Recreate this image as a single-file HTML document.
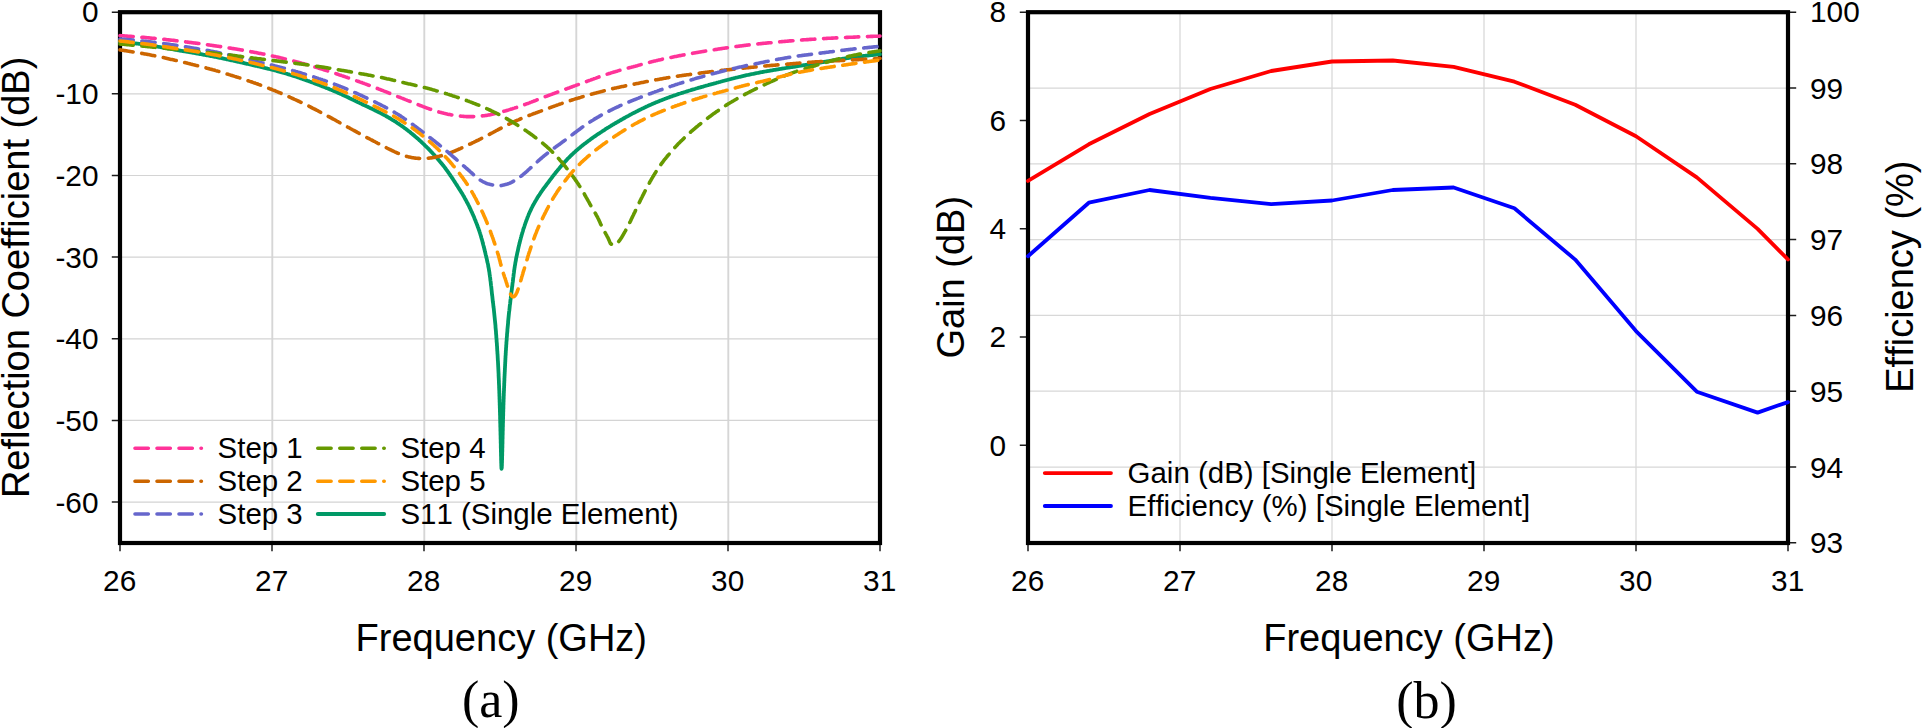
<!DOCTYPE html>
<html lang="en"><head><meta charset="utf-8"><title>Reflection coefficient, gain and efficiency</title>
<style>html,body{margin:0;padding:0;background:#fff;overflow:hidden}svg{display:block}text{fill:#000;font-kerning:none}</style></head><body>
<svg width="1923" height="728" viewBox="0 0 1923 728" font-family='"Liberation Sans", Arial, Helvetica, sans-serif'>
<rect x="0" y="0" width="1923" height="728" fill="#fff"/>
<g id="chart-a">
<path d="M272.3,12.2V543M424.3,12.2V543M576.3,12.2V543M728.3,12.2V543" stroke="#d6d6d6" stroke-width="1.9" fill="none"/>
<path d="M120,93.8H880M120,175.5H880M120,257.1H880M120,338.8H880M120,420.4H880M120,502.1H880" stroke="#d4d4d4" stroke-width="1.2" fill="none"/>
<path d="M120,543v8.2M272,543v8.2M424,543v8.2M576,543v8.2M728,543v8.2M880,543v8.2M120,12.2h-8.2M120,93.8h-8.2M120,175.5h-8.2M120,257.1h-8.2M120,338.8h-8.2M120,420.4h-8.2M120,502.1h-8.2" stroke="#1c1c1c" stroke-width="1.5" fill="none"/>
<rect x="120" y="12.2" width="760" height="530.8" fill="none" stroke="#000" stroke-width="4.2"/>
<path d="M120.0,42.0 L121.0,42.1 L122.0,42.2 L123.0,42.2 L124.0,42.3 L125.0,42.4 L126.0,42.5 L127.0,42.6 L128.0,42.7 L129.0,42.7 L130.0,42.8 L131.0,42.9 L131.9,43.0 L132.9,43.1 L133.9,43.2 L134.9,43.3 L135.9,43.5 L136.9,43.6 L137.9,43.7 L138.9,43.8 L139.9,43.9 L140.9,44.1 L141.9,44.2 L142.9,44.3 L143.9,44.5 L144.8,44.6 L145.8,44.7 L146.8,44.9 L147.8,45.0 L148.8,45.2 L149.8,45.4 L150.8,45.5 L151.8,45.7 L152.7,45.8 L153.7,46.0 L154.7,46.2 L155.7,46.3 L156.7,46.5 L157.7,46.7 L158.7,46.8 L159.6,47.0 L160.6,47.2 L161.6,47.3 L162.6,47.5 L163.6,47.7 L164.6,47.9 L165.6,48.0 L166.5,48.2 L167.5,48.4 L168.5,48.6 L169.5,48.7 L170.5,48.9 L171.5,49.1 L172.5,49.2 L173.4,49.4 L174.4,49.6 L175.4,49.8 L176.4,49.9 L177.4,50.1 L178.4,50.3 L179.3,50.5 L180.3,50.6 L181.3,50.8 L182.3,51.0 L183.3,51.1 L184.3,51.3 L185.3,51.5 L186.2,51.7 L187.2,51.8 L188.2,52.0 L189.2,52.2 L190.2,52.3 L191.2,52.5 L192.2,52.7 L193.1,52.8 L194.1,53.0 L195.1,53.2 L196.1,53.4 L197.1,53.5 L198.1,53.7 L199.1,53.9 L200.0,54.0 L201.0,54.2 L202.0,54.4 L203.0,54.6 L204.0,54.8 L205.0,54.9 L205.9,55.1 L206.9,55.3 L207.9,55.5 L208.9,55.7 L209.9,55.9 L210.9,56.1 L211.8,56.2 L212.8,56.4 L213.8,56.6 L214.8,56.8 L215.8,57.0 L216.7,57.2 L217.7,57.4 L218.7,57.6 L219.7,57.8 L220.7,58.0 L221.6,58.2 L222.6,58.4 L223.6,58.6 L224.6,58.8 L225.6,59.0 L226.5,59.3 L227.5,59.5 L228.5,59.7 L229.5,59.9 L230.4,60.1 L231.4,60.3 L232.4,60.5 L233.4,60.7 L234.3,61.0 L235.3,61.2 L236.3,61.4 L237.3,61.6 L238.3,61.8 L239.2,62.0 L240.2,62.3 L241.2,62.5 L242.2,62.7 L243.1,62.9 L244.1,63.1 L245.1,63.4 L246.1,63.6 L247.0,63.8 L248.0,64.0 L249.0,64.2 L250.0,64.5 L250.9,64.7 L251.9,64.9 L252.9,65.1 L253.9,65.4 L254.8,65.6 L255.8,65.8 L256.8,66.0 L257.8,66.3 L258.7,66.5 L259.7,66.7 L260.7,66.9 L261.7,67.2 L262.6,67.4 L263.6,67.6 L264.6,67.9 L265.5,68.1 L266.5,68.3 L267.5,68.6 L268.5,68.8 L269.4,69.0 L270.4,69.3 L271.4,69.5 L272.3,69.8 L273.3,70.0 L274.3,70.3 L275.2,70.5 L276.2,70.8 L277.2,71.1 L278.1,71.3 L279.1,71.6 L280.1,71.9 L281.0,72.1 L282.0,72.4 L282.9,72.7 L283.9,73.0 L284.9,73.2 L285.8,73.5 L286.8,73.8 L287.7,74.1 L288.7,74.4 L289.6,74.7 L290.6,75.0 L291.5,75.3 L292.5,75.6 L293.5,75.9 L294.4,76.2 L295.4,76.5 L296.3,76.8 L297.3,77.1 L298.2,77.5 L299.1,77.8 L300.1,78.1 L301.0,78.4 L302.0,78.8 L302.9,79.1 L303.9,79.4 L304.8,79.8 L305.7,80.1 L306.7,80.4 L307.6,80.8 L308.6,81.1 L309.5,81.5 L310.4,81.8 L311.4,82.2 L312.3,82.5 L313.3,82.8 L314.2,83.2 L315.1,83.6 L316.1,83.9 L317.0,84.3 L317.9,84.6 L318.9,85.0 L319.8,85.3 L320.7,85.7 L321.7,86.1 L322.6,86.4 L323.5,86.8 L324.5,87.1 L325.4,87.5 L326.3,87.9 L327.3,88.3 L328.2,88.6 L329.1,89.0 L330.0,89.4 L331.0,89.8 L331.9,90.1 L332.8,90.5 L333.7,90.9 L334.6,91.3 L335.6,91.7 L336.5,92.1 L337.4,92.5 L338.3,92.9 L339.2,93.3 L340.1,93.7 L341.0,94.1 L342.0,94.5 L342.9,95.0 L343.8,95.4 L344.7,95.8 L345.6,96.2 L346.5,96.7 L347.4,97.1 L348.3,97.5 L349.2,98.0 L350.1,98.4 L351.0,98.8 L351.9,99.3 L352.8,99.7 L353.7,100.1 L354.6,100.6 L355.5,101.0 L356.4,101.4 L357.3,101.9 L358.2,102.3 L359.1,102.7 L360.0,103.2 L360.9,103.6 L361.8,104.0 L362.7,104.5 L363.6,104.9 L364.5,105.3 L365.4,105.7 L366.3,106.2 L367.2,106.6 L368.1,107.0 L369.0,107.4 L369.9,107.9 L370.8,108.3 L371.7,108.7 L372.6,109.2 L373.5,109.6 L374.4,110.0 L375.3,110.5 L376.2,110.9 L377.1,111.4 L378.0,111.8 L378.9,112.3 L379.8,112.7 L380.7,113.2 L381.6,113.6 L382.4,114.1 L383.3,114.6 L384.2,115.1 L385.1,115.5 L385.9,116.0 L386.8,116.5 L387.7,117.0 L388.5,117.5 L389.4,118.0 L390.3,118.5 L391.1,119.1 L392.0,119.6 L392.8,120.1 L393.7,120.6 L394.5,121.2 L395.4,121.7 L396.2,122.2 L397.0,122.8 L397.9,123.3 L398.7,123.9 L399.5,124.4 L400.3,125.0 L401.2,125.6 L402.0,126.2 L402.8,126.7 L403.6,127.3 L404.4,127.9 L405.2,128.5 L406.0,129.1 L406.8,129.7 L407.6,130.3 L408.4,130.9 L409.2,131.5 L410.0,132.1 L410.7,132.8 L411.5,133.4 L412.3,134.0 L413.1,134.7 L413.8,135.3 L414.6,136.0 L415.3,136.6 L416.1,137.3 L416.9,137.9 L417.6,138.6 L418.4,139.2 L419.1,139.9 L419.8,140.6 L420.6,141.2 L421.3,141.9 L422.0,142.6 L422.8,143.3 L423.5,144.0 L424.2,144.7 L424.9,145.4 L425.6,146.1 L426.4,146.8 L427.1,147.5 L427.8,148.2 L428.5,148.9 L429.2,149.6 L429.9,150.3 L430.6,151.0 L431.2,151.8 L431.9,152.5 L432.6,153.2 L433.3,154.0 L434.0,154.7 L434.6,155.4 L435.3,156.2 L436.0,156.9 L436.6,157.7 L437.3,158.4 L438.0,159.2 L438.6,159.9 L439.3,160.7 L439.9,161.5 L440.5,162.2 L441.2,163.0 L441.8,163.8 L442.4,164.5 L443.0,165.3 L443.7,166.1 L444.3,166.9 L444.9,167.7 L445.5,168.5 L446.1,169.3 L446.7,170.1 L447.2,170.9 L447.8,171.7 L448.4,172.5 L449.0,173.3 L449.5,174.2 L450.1,175.0 L450.7,175.8 L451.2,176.6 L451.8,177.5 L452.4,178.3 L452.9,179.1 L453.5,180.0 L454.0,180.8 L454.6,181.6 L455.1,182.5 L455.6,183.3 L456.2,184.2 L456.7,185.0 L457.3,185.8 L457.8,186.7 L458.3,187.5 L458.9,188.4 L459.4,189.2 L460.0,190.1 L460.5,190.9 L461.0,191.7 L461.5,192.6 L462.1,193.4 L462.6,194.3 L463.1,195.2 L463.6,196.0 L464.1,196.9 L464.6,197.8 L465.0,198.6 L465.5,199.5 L466.0,200.4 L466.5,201.3 L466.9,202.2 L467.4,203.0 L467.9,203.9 L468.3,204.8 L468.8,205.7 L469.2,206.6 L469.6,207.5 L470.1,208.4 L470.5,209.3 L470.9,210.2 L471.3,211.1 L471.8,212.1 L472.2,213.0 L472.6,213.9 L473.0,214.8 L473.4,215.7 L473.8,216.6 L474.2,217.5 L474.5,218.5 L474.9,219.4 L475.3,220.3 L475.7,221.3 L476.0,222.2 L476.4,223.1 L476.8,224.1 L477.1,225.0 L477.5,225.9 L477.8,226.9 L478.2,227.8 L478.5,228.7 L478.8,229.7 L479.2,230.6 L479.5,231.6 L479.8,232.5 L480.1,233.5 L480.4,234.4 L480.7,235.4 L481.0,236.3 L481.2,237.3 L481.5,238.3 L481.8,239.2 L482.1,240.2 L482.3,241.2 L482.6,242.1 L482.8,243.1 L483.1,244.1 L483.3,245.0 L483.6,246.0 L483.8,247.0 L484.1,247.9 L484.3,248.9 L484.6,249.9 L484.8,250.9 L485.0,251.8 L485.3,252.8 L485.5,253.8 L485.7,254.7 L486.0,255.7 L486.2,256.7 L486.4,257.7 L486.7,258.6 L486.9,259.6 L487.1,260.6 L487.3,261.6 L487.5,262.5 L487.8,263.5 L488.0,264.5 L488.2,265.5 L488.3,266.5 L488.5,267.4 L488.7,268.4 L488.9,269.4 L489.0,270.4 L489.2,271.4 L489.4,272.4 L489.5,273.4 L489.6,274.4 L489.8,275.3 L489.9,276.3 L490.1,277.3 L490.2,278.3 L490.3,279.3 L490.4,280.3 L490.6,281.3 L490.7,282.3 L490.8,283.3 L490.9,284.3 L491.0,285.3 L491.2,286.3 L491.3,287.3 L491.4,288.2 L491.5,289.2 L491.6,290.2 L491.7,291.2 L491.8,292.2 L491.9,293.2 L492.0,294.2 L492.1,295.2 L492.3,296.2 L492.4,297.2 L492.5,298.2 L492.6,299.2 L492.7,300.2 L492.8,301.2 L492.9,302.2 L493.1,303.2 L493.2,304.1 L493.3,305.1 L493.4,306.1 L493.5,307.1 L493.7,308.1 L493.8,309.1 L493.9,310.1 L494.0,311.1 L494.1,312.1 L494.2,313.1 L494.3,314.1 L494.4,315.1 L494.5,316.1 L494.6,317.1 L494.7,318.1 L494.8,319.1 L494.9,320.1 L495.0,321.0 L495.1,322.0 L495.2,323.0 L495.3,324.0 L495.4,325.0 L495.5,326.0 L495.5,327.0 L495.6,328.0 L495.7,329.0 L495.8,330.0 L495.9,331.0 L496.0,332.0 L496.0,333.0 L496.1,334.0 L496.2,335.0 L496.3,336.0 L496.3,337.0 L496.4,338.0 L496.5,339.0 L496.6,340.0 L496.6,341.0 L496.7,342.0 L496.8,343.0 L496.9,344.0 L496.9,345.0 L497.0,346.0 L497.1,347.0 L497.1,348.0 L497.2,349.0 L497.2,350.0 L497.3,351.0 L497.4,352.0 L497.4,353.0 L497.5,354.0 L497.6,354.9 L497.6,355.9 L497.7,356.9 L497.7,357.9 L497.8,358.9 L497.8,359.9 L497.9,360.9 L498.0,361.9 L498.0,362.9 L498.1,363.9 L498.1,364.9 L498.2,365.9 L498.2,366.9 L498.3,367.9 L498.3,368.9 L498.4,369.9 L498.4,370.9 L498.5,371.9 L498.5,372.9 L498.6,373.9 L498.6,374.9 L498.6,375.9 L498.7,376.9 L498.7,377.9 L498.8,378.9 L498.8,379.9 L498.9,380.9 L498.9,381.9 L498.9,382.9 L499.0,383.9 L499.0,384.9 L499.1,385.9 L499.1,386.9 L499.1,387.9 L499.2,388.9 L499.2,389.9 L499.3,390.9 L499.3,391.9 L499.3,392.9 L499.4,393.9 L499.4,394.9 L499.4,395.9 L499.5,396.9 L499.5,397.9 L499.5,398.9 L499.6,399.9 L499.6,400.9 L499.6,401.9 L499.7,402.9 L499.7,403.9 L499.7,404.9 L499.8,405.9 L499.8,406.9 L499.8,407.9 L499.9,408.9 L499.9,409.9 L499.9,410.9 L499.9,411.9 L500.0,412.9 L500.0,413.9 L500.0,414.9 L500.1,415.9 L500.1,416.9 L500.1,417.9 L500.1,418.9 L500.2,419.9 L500.2,420.9 L500.2,421.9 L500.2,422.9 L500.3,423.9 L500.3,424.9 L500.3,425.9 L500.3,426.9 L500.4,427.9 L500.4,428.9 L500.4,429.9 L500.4,430.9 L500.5,431.9 L500.5,432.9 L500.5,433.9 L500.5,434.9 L500.6,435.9 L500.6,436.9 L500.6,437.9 L500.6,438.9 L500.7,439.9 L500.7,440.9 L500.7,441.9 L500.7,442.9 L500.8,443.9 L500.8,444.9 L500.8,445.9 L500.8,446.9 L500.8,447.9 L500.9,448.9 L500.9,449.9 L500.9,450.9 L500.9,451.9 L501.0,452.9 L501.0,453.9 L501.0,454.9 L501.0,455.9 L501.1,456.9 L501.1,457.9 L501.1,458.9 L501.1,459.9 L501.2,460.9 L501.2,461.9 L501.2,462.9 L501.3,463.9 L501.3,464.9 L501.3,465.9 L501.4,466.9 L501.4,467.9 L501.5,468.9 L501.8,467.5 L501.8,466.5 L501.9,465.5 L501.9,464.5 L501.9,463.5 L502.0,462.5 L502.0,461.5 L502.0,460.5 L502.1,459.5 L502.1,458.5 L502.1,457.5 L502.1,456.5 L502.2,455.5 L502.2,454.5 L502.2,453.5 L502.2,452.5 L502.3,451.5 L502.3,450.5 L502.3,449.5 L502.3,448.5 L502.4,447.5 L502.4,446.5 L502.4,445.5 L502.4,444.5 L502.5,443.5 L502.5,442.5 L502.5,441.5 L502.5,440.5 L502.5,439.5 L502.6,438.5 L502.6,437.5 L502.6,436.5 L502.6,435.5 L502.7,434.5 L502.7,433.5 L502.7,432.5 L502.7,431.5 L502.8,430.5 L502.8,429.5 L502.8,428.5 L502.8,427.5 L502.9,426.5 L502.9,425.5 L502.9,424.5 L502.9,423.5 L503.0,422.5 L503.0,421.5 L503.0,420.5 L503.0,419.5 L503.1,418.5 L503.1,417.5 L503.1,416.5 L503.2,415.5 L503.2,414.5 L503.2,413.5 L503.2,412.5 L503.3,411.5 L503.3,410.5 L503.3,409.5 L503.4,408.6 L503.4,407.6 L503.4,406.6 L503.4,405.6 L503.5,404.6 L503.5,403.6 L503.5,402.6 L503.6,401.6 L503.6,400.6 L503.6,399.6 L503.7,398.6 L503.7,397.6 L503.7,396.6 L503.8,395.6 L503.8,394.6 L503.8,393.6 L503.9,392.6 L503.9,391.6 L504.0,390.6 L504.0,389.6 L504.0,388.6 L504.1,387.6 L504.1,386.6 L504.2,385.6 L504.2,384.6 L504.2,383.6 L504.3,382.6 L504.3,381.6 L504.4,380.6 L504.4,379.6 L504.4,378.6 L504.5,377.6 L504.5,376.6 L504.6,375.6 L504.6,374.6 L504.7,373.6 L504.7,372.6 L504.8,371.6 L504.8,370.6 L504.9,369.6 L504.9,368.6 L505.0,367.6 L505.0,366.6 L505.1,365.6 L505.1,364.6 L505.2,363.6 L505.2,362.6 L505.3,361.6 L505.3,360.6 L505.4,359.6 L505.4,358.6 L505.5,357.6 L505.5,356.6 L505.6,355.6 L505.7,354.6 L505.7,353.6 L505.8,352.6 L505.8,351.6 L505.9,350.6 L506.0,349.6 L506.0,348.6 L506.1,347.6 L506.2,346.6 L506.2,345.6 L506.3,344.6 L506.4,343.6 L506.4,342.6 L506.5,341.6 L506.6,340.6 L506.7,339.6 L506.7,338.6 L506.8,337.6 L506.9,336.6 L507.0,335.6 L507.0,334.6 L507.1,333.7 L507.2,332.7 L507.3,331.7 L507.4,330.7 L507.4,329.7 L507.5,328.7 L507.6,327.7 L507.7,326.7 L507.8,325.7 L507.9,324.7 L508.0,323.7 L508.1,322.7 L508.1,321.7 L508.2,320.7 L508.3,319.7 L508.4,318.7 L508.5,317.7 L508.6,316.7 L508.7,315.7 L508.8,314.7 L508.9,313.7 L509.0,312.7 L509.1,311.7 L509.3,310.8 L509.4,309.8 L509.5,308.8 L509.6,307.8 L509.7,306.8 L509.8,305.8 L509.9,304.8 L510.1,303.8 L510.2,302.8 L510.3,301.8 L510.4,300.8 L510.5,299.8 L510.7,298.8 L510.8,297.8 L510.9,296.8 L511.0,295.9 L511.1,294.9 L511.3,293.9 L511.4,292.9 L511.5,291.9 L511.6,290.9 L511.8,289.9 L511.9,288.9 L512.0,287.9 L512.1,286.9 L512.3,285.9 L512.4,284.9 L512.5,283.9 L512.6,283.0 L512.8,282.0 L512.9,281.0 L513.0,280.0 L513.1,279.0 L513.2,278.0 L513.4,277.0 L513.5,276.0 L513.6,275.0 L513.7,274.0 L513.9,273.0 L514.0,272.0 L514.1,271.0 L514.2,270.1 L514.4,269.1 L514.5,268.1 L514.7,267.1 L514.8,266.1 L515.0,265.1 L515.2,264.1 L515.3,263.1 L515.5,262.2 L515.7,261.2 L515.9,260.2 L516.0,259.2 L516.2,258.2 L516.4,257.2 L516.6,256.3 L516.8,255.3 L517.0,254.3 L517.2,253.3 L517.4,252.3 L517.7,251.4 L517.9,250.4 L518.1,249.4 L518.3,248.4 L518.5,247.5 L518.7,246.5 L519.0,245.5 L519.2,244.5 L519.4,243.6 L519.7,242.6 L519.9,241.6 L520.2,240.7 L520.4,239.7 L520.7,238.7 L520.9,237.7 L521.2,236.8 L521.5,235.8 L521.7,234.8 L522.0,233.9 L522.3,232.9 L522.6,232.0 L522.9,231.0 L523.1,230.1 L523.4,229.1 L523.7,228.2 L524.1,227.2 L524.4,226.3 L524.7,225.3 L525.0,224.4 L525.3,223.4 L525.7,222.5 L526.0,221.5 L526.4,220.6 L526.7,219.6 L527.1,218.7 L527.4,217.8 L527.8,216.8 L528.2,215.9 L528.5,215.0 L528.9,214.1 L529.3,213.1 L529.7,212.2 L530.1,211.3 L530.6,210.4 L531.0,209.5 L531.4,208.6 L531.8,207.7 L532.3,206.8 L532.7,205.9 L533.2,205.1 L533.7,204.2 L534.2,203.3 L534.7,202.4 L535.2,201.5 L535.7,200.7 L536.2,199.8 L536.7,199.0 L537.2,198.1 L537.7,197.3 L538.3,196.4 L538.8,195.6 L539.4,194.7 L539.9,193.9 L540.5,193.1 L541.0,192.3 L541.6,191.4 L542.2,190.6 L542.7,189.8 L543.3,189.0 L543.9,188.2 L544.5,187.4 L545.1,186.6 L545.7,185.8 L546.3,185.0 L546.9,184.2 L547.5,183.4 L548.1,182.6 L548.7,181.8 L549.3,181.0 L549.9,180.2 L550.5,179.4 L551.1,178.6 L551.7,177.8 L552.3,177.0 L552.9,176.2 L553.5,175.4 L554.2,174.6 L554.8,173.8 L555.4,173.0 L556.0,172.3 L556.6,171.5 L557.3,170.7 L557.9,169.9 L558.5,169.2 L559.2,168.4 L559.8,167.6 L560.5,166.9 L561.1,166.1 L561.8,165.4 L562.4,164.6 L563.1,163.8 L563.7,163.1 L564.4,162.4 L565.1,161.6 L565.8,160.9 L566.4,160.2 L567.1,159.4 L567.8,158.7 L568.5,158.0 L569.2,157.3 L569.9,156.6 L570.6,155.9 L571.3,155.2 L572.1,154.5 L572.8,153.8 L573.5,153.1 L574.3,152.5 L575.0,151.8 L575.7,151.1 L576.5,150.5 L577.2,149.8 L578.0,149.2 L578.7,148.5 L579.5,147.9 L580.3,147.2 L581.0,146.6 L581.8,146.0 L582.6,145.3 L583.4,144.7 L584.2,144.1 L585.0,143.5 L585.8,142.9 L586.6,142.3 L587.4,141.7 L588.2,141.1 L589.0,140.5 L589.8,139.9 L590.6,139.3 L591.4,138.7 L592.2,138.2 L593.0,137.6 L593.8,137.0 L594.7,136.4 L595.5,135.9 L596.3,135.3 L597.1,134.7 L598.0,134.2 L598.8,133.6 L599.6,133.1 L600.5,132.5 L601.3,132.0 L602.1,131.4 L603.0,130.9 L603.8,130.3 L604.6,129.8 L605.5,129.2 L606.3,128.7 L607.2,128.2 L608.0,127.6 L608.9,127.1 L609.7,126.6 L610.6,126.1 L611.4,125.5 L612.3,125.0 L613.1,124.5 L614.0,124.0 L614.8,123.5 L615.7,123.0 L616.6,122.5 L617.4,122.0 L618.3,121.5 L619.2,121.0 L620.0,120.5 L620.9,120.0 L621.8,119.5 L622.6,119.0 L623.5,118.5 L624.4,118.0 L625.3,117.5 L626.1,117.0 L627.0,116.6 L627.9,116.1 L628.8,115.6 L629.6,115.1 L630.5,114.6 L631.4,114.2 L632.3,113.7 L633.2,113.2 L634.1,112.8 L634.9,112.3 L635.8,111.9 L636.7,111.4 L637.6,111.0 L638.5,110.5 L639.4,110.1 L640.3,109.6 L641.2,109.2 L642.1,108.7 L643.0,108.3 L643.9,107.9 L644.8,107.4 L645.7,107.0 L646.6,106.6 L647.5,106.2 L648.4,105.7 L649.3,105.3 L650.2,104.9 L651.2,104.5 L652.1,104.1 L653.0,103.7 L653.9,103.3 L654.8,102.9 L655.7,102.5 L656.7,102.1 L657.6,101.8 L658.5,101.4 L659.4,101.0 L660.4,100.6 L661.3,100.3 L662.2,99.9 L663.2,99.5 L664.1,99.2 L665.0,98.8 L666.0,98.5 L666.9,98.1 L667.8,97.8 L668.8,97.4 L669.7,97.1 L670.6,96.7 L671.6,96.4 L672.5,96.1 L673.5,95.7 L674.4,95.4 L675.4,95.1 L676.3,94.8 L677.3,94.4 L678.2,94.1 L679.1,93.8 L680.1,93.5 L681.0,93.2 L682.0,92.9 L683.0,92.6 L683.9,92.3 L684.9,92.0 L685.8,91.7 L686.8,91.4 L687.7,91.1 L688.7,90.8 L689.6,90.5 L690.6,90.2 L691.5,89.9 L692.5,89.6 L693.5,89.3 L694.4,89.1 L695.4,88.8 L696.3,88.5 L697.3,88.2 L698.3,87.9 L699.2,87.7 L700.2,87.4 L701.1,87.1 L702.1,86.8 L703.1,86.6 L704.0,86.3 L705.0,86.0 L706.0,85.7 L706.9,85.5 L707.9,85.2 L708.8,84.9 L709.8,84.7 L710.8,84.4 L711.7,84.1 L712.7,83.9 L713.7,83.6 L714.6,83.3 L715.6,83.1 L716.6,82.8 L717.5,82.5 L718.5,82.3 L719.5,82.0 L720.4,81.8 L721.4,81.5 L722.4,81.2 L723.3,81.0 L724.3,80.7 L725.3,80.5 L726.2,80.2 L727.2,80.0 L728.2,79.7 L729.1,79.5 L730.1,79.2 L731.1,79.0 L732.0,78.7 L733.0,78.5 L734.0,78.2 L734.9,78.0 L735.9,77.7 L736.9,77.5 L737.8,77.3 L738.8,77.0 L739.8,76.8 L740.8,76.6 L741.7,76.3 L742.7,76.1 L743.7,75.9 L744.7,75.7 L745.6,75.4 L746.6,75.2 L747.6,75.0 L748.6,74.8 L749.5,74.6 L750.5,74.4 L751.5,74.2 L752.5,74.0 L753.5,73.8 L754.4,73.6 L755.4,73.4 L756.4,73.2 L757.4,73.0 L758.4,72.8 L759.3,72.6 L760.3,72.4 L761.3,72.2 L762.3,72.0 L763.3,71.9 L764.2,71.7 L765.2,71.5 L766.2,71.3 L767.2,71.1 L768.2,71.0 L769.2,70.8 L770.2,70.6 L771.1,70.5 L772.1,70.3 L773.1,70.1 L774.1,69.9 L775.1,69.8 L776.1,69.6 L777.1,69.5 L778.0,69.3 L779.0,69.1 L780.0,69.0 L781.0,68.8 L782.0,68.6 L783.0,68.5 L784.0,68.3 L785.0,68.2 L785.9,68.0 L786.9,67.8 L787.9,67.7 L788.9,67.5 L789.9,67.4 L790.9,67.2 L791.9,67.1 L792.9,66.9 L793.8,66.8 L794.8,66.6 L795.8,66.5 L796.8,66.3 L797.8,66.2 L798.8,66.0 L799.8,65.8 L800.8,65.7 L801.7,65.5 L802.7,65.4 L803.7,65.2 L804.7,65.1 L805.7,64.9 L806.7,64.8 L807.7,64.6 L808.7,64.5 L809.7,64.3 L810.6,64.2 L811.6,64.0 L812.6,63.8 L813.6,63.7 L814.6,63.5 L815.6,63.4 L816.6,63.2 L817.6,63.0 L818.5,62.9 L819.5,62.7 L820.5,62.5 L821.5,62.4 L822.5,62.2 L823.5,62.0 L824.5,61.9 L825.4,61.7 L826.4,61.5 L827.4,61.4 L828.4,61.2 L829.4,61.0 L830.4,60.9 L831.4,60.7 L832.3,60.5 L833.3,60.4 L834.3,60.2 L835.3,60.0 L836.3,59.9 L837.3,59.7 L838.3,59.5 L839.2,59.4 L840.2,59.2 L841.2,59.1 L842.2,58.9 L843.2,58.7 L844.2,58.6 L845.2,58.4 L846.2,58.3 L847.1,58.1 L848.1,58.0 L849.1,57.9 L850.1,57.7 L851.1,57.6 L852.1,57.4 L853.1,57.3 L854.1,57.2 L855.1,57.0 L856.0,56.9 L857.0,56.8 L858.0,56.7 L859.0,56.5 L860.0,56.4 L861.0,56.3 L862.0,56.2 L863.0,56.0 L863.9,55.9 L864.9,55.8 L865.9,55.7 L866.9,55.6 L867.9,55.5 L868.8,55.4 L869.8,55.3 L870.8,55.2 L871.8,55.1 L872.7,55.0 L873.7,54.9 L874.7,54.8 L875.7,54.6 L876.6,54.5 L877.6,54.4 L878.6,54.3 L879.5,54.2 L880.0,54.2" fill="none" stroke="#009966" stroke-width="3.8000000000000003" stroke-linecap="round" stroke-linejoin="round"/>
<path d="M120.0,35.6 L121.0,35.7 L122.0,35.7 L123.0,35.8 L124.0,35.9 L125.0,36.0 L126.0,36.0 L127.0,36.1 L128.0,36.2 L129.0,36.3 L130.0,36.3 L131.0,36.4 L132.0,36.5 L133.0,36.6 L134.0,36.6 L135.0,36.7 L136.0,36.8 L137.0,36.9 L138.0,36.9 L138.9,37.0 L139.9,37.1 L140.9,37.2 L141.9,37.3 L142.9,37.4 L143.9,37.4 L144.9,37.5 L145.9,37.6 L146.9,37.7 L147.9,37.8 L148.9,37.9 L149.9,38.0 L150.9,38.1 L151.9,38.2 L152.9,38.2 L153.9,38.3 L154.9,38.4 L155.9,38.5 L156.9,38.6 L157.9,38.7 L158.9,38.8 L159.9,38.9 L160.9,39.0 L161.8,39.1 L162.8,39.2 L163.8,39.3 L164.8,39.4 L165.8,39.5 L166.8,39.7 L167.8,39.8 L168.8,39.9 L169.8,40.0 L170.8,40.1 L171.8,40.2 L172.8,40.3 L173.8,40.4 L174.8,40.5 L175.8,40.7 L176.8,40.8 L177.8,40.9 L178.7,41.0 L179.7,41.1 L180.7,41.3 L181.7,41.4 L182.7,41.5 L183.7,41.6 L184.7,41.7 L185.7,41.9 L186.7,42.0 L187.7,42.1 L188.7,42.2 L189.7,42.4 L190.7,42.5 L191.6,42.6 L192.6,42.7 L193.6,42.9 L194.6,43.0 L195.6,43.1 L196.6,43.3 L197.6,43.4 L198.6,43.5 L199.6,43.7 L200.6,43.8 L201.6,43.9 L202.5,44.1 L203.5,44.2 L204.5,44.3 L205.5,44.5 L206.5,44.6 L207.5,44.7 L208.5,44.9 L209.5,45.0 L210.5,45.2 L211.5,45.3 L212.5,45.5 L213.4,45.6 L214.4,45.7 L215.4,45.9 L216.4,46.0 L217.4,46.2 L218.4,46.3 L219.4,46.5 L220.4,46.6 L221.4,46.8 L222.3,46.9 L223.3,47.1 L224.3,47.2 L225.3,47.4 L226.3,47.5 L227.3,47.7 L228.3,47.8 L229.3,48.0 L230.2,48.1 L231.2,48.3 L232.2,48.5 L233.2,48.6 L234.2,48.8 L235.2,48.9 L236.2,49.1 L237.2,49.3 L238.1,49.4 L239.1,49.6 L240.1,49.8 L241.1,49.9 L242.1,50.1 L243.1,50.3 L244.1,50.4 L245.0,50.6 L246.0,50.8 L247.0,51.0 L248.0,51.1 L249.0,51.3 L250.0,51.5 L250.9,51.7 L251.9,51.9 L252.9,52.0 L253.9,52.2 L254.9,52.4 L255.9,52.6 L256.8,52.8 L257.8,53.0 L258.8,53.2 L259.8,53.4 L260.8,53.5 L261.8,53.7 L262.7,53.9 L263.7,54.1 L264.7,54.3 L265.7,54.5 L266.6,54.7 L267.6,54.9 L268.6,55.1 L269.6,55.4 L270.6,55.6 L271.5,55.8 L272.5,56.0 L273.5,56.2 L274.5,56.4 L275.4,56.6 L276.4,56.9 L277.4,57.1 L278.4,57.3 L279.3,57.5 L280.3,57.8 L281.3,58.0 L282.3,58.2 L283.2,58.4 L284.2,58.7 L285.2,58.9 L286.2,59.1 L287.1,59.4 L288.1,59.6 L289.1,59.9 L290.0,60.1 L291.0,60.4 L292.0,60.6 L292.9,60.8 L293.9,61.1 L294.9,61.4 L295.8,61.6 L296.8,61.9 L297.8,62.1 L298.7,62.4 L299.7,62.6 L300.7,62.9 L301.6,63.2 L302.6,63.4 L303.6,63.7 L304.5,64.0 L305.5,64.2 L306.5,64.5 L307.4,64.8 L308.4,65.1 L309.3,65.3 L310.3,65.6 L311.3,65.9 L312.2,66.2 L313.2,66.5 L314.1,66.8 L315.1,67.1 L316.0,67.3 L317.0,67.6 L318.0,67.9 L318.9,68.2 L319.9,68.5 L320.8,68.8 L321.8,69.1 L322.7,69.4 L323.7,69.7 L324.6,70.0 L325.6,70.3 L326.5,70.6 L327.5,70.9 L328.4,71.2 L329.4,71.5 L330.4,71.8 L331.3,72.1 L332.3,72.5 L333.2,72.8 L334.2,73.1 L335.1,73.4 L336.1,73.7 L337.0,74.0 L337.9,74.3 L338.9,74.7 L339.8,75.0 L340.8,75.3 L341.7,75.6 L342.7,75.9 L343.6,76.3 L344.6,76.6 L345.5,76.9 L346.5,77.2 L347.4,77.6 L348.4,77.9 L349.3,78.2 L350.3,78.5 L351.2,78.9 L352.1,79.2 L353.1,79.5 L354.0,79.9 L355.0,80.2 L355.9,80.5 L356.9,80.9 L357.8,81.2 L358.7,81.5 L359.7,81.9 L360.6,82.2 L361.6,82.5 L362.5,82.9 L363.4,83.2 L364.4,83.6 L365.3,83.9 L366.3,84.3 L367.2,84.6 L368.1,85.0 L369.1,85.3 L370.0,85.7 L370.9,86.0 L371.9,86.4 L372.8,86.7 L373.7,87.1 L374.7,87.4 L375.6,87.8 L376.5,88.2 L377.5,88.5 L378.4,88.9 L379.3,89.2 L380.3,89.6 L381.2,90.0 L382.1,90.3 L383.1,90.7 L384.0,91.1 L384.9,91.4 L385.9,91.8 L386.8,92.1 L387.7,92.5 L388.7,92.9 L389.6,93.3 L390.5,93.6 L391.4,94.0 L392.4,94.4 L393.3,94.7 L394.2,95.1 L395.2,95.5 L396.1,95.8 L397.0,96.2 L397.9,96.6 L398.9,97.0 L399.8,97.3 L400.7,97.7 L401.7,98.1 L402.6,98.4 L403.5,98.8 L404.4,99.2 L405.4,99.6 L406.3,99.9 L407.2,100.3 L408.2,100.7 L409.1,101.0 L410.0,101.4 L410.9,101.8 L411.9,102.2 L412.8,102.5 L413.7,102.9 L414.7,103.3 L415.6,103.6 L416.5,104.0 L417.5,104.4 L418.4,104.8 L419.3,105.1 L420.2,105.5 L421.2,105.8 L422.1,106.2 L423.0,106.6 L424.0,106.9 L424.9,107.3 L425.8,107.6 L426.8,108.0 L427.7,108.3 L428.7,108.6 L429.6,109.0 L430.5,109.3 L431.5,109.6 L432.4,109.9 L433.4,110.3 L434.3,110.6 L435.3,110.9 L436.2,111.2 L437.2,111.4 L438.2,111.7 L439.1,112.0 L440.1,112.3 L441.0,112.5 L442.0,112.8 L443.0,113.0 L443.9,113.3 L444.9,113.5 L445.9,113.7 L446.8,113.9 L447.8,114.2 L448.8,114.4 L449.8,114.5 L450.7,114.7 L451.7,114.9 L452.7,115.1 L453.7,115.2 L454.7,115.4 L455.7,115.5 L456.7,115.7 L457.6,115.8 L458.6,115.9 L459.6,116.0 L460.6,116.1 L461.6,116.2 L462.6,116.3 L463.6,116.4 L464.6,116.5 L465.6,116.5 L466.6,116.6 L467.6,116.6 L468.6,116.6 L469.5,116.6 L470.5,116.6 L471.5,116.6 L472.5,116.6 L473.5,116.6 L474.5,116.6 L475.5,116.5 L476.5,116.5 L477.5,116.4 L478.5,116.3 L479.5,116.2 L480.5,116.2 L481.4,116.0 L482.4,115.9 L483.4,115.8 L484.4,115.7 L485.4,115.5 L486.4,115.4 L487.4,115.2 L488.3,115.0 L489.3,114.9 L490.3,114.7 L491.3,114.5 L492.2,114.3 L493.2,114.1 L494.2,113.8 L495.2,113.6 L496.1,113.4 L497.1,113.1 L498.1,112.9 L499.0,112.7 L500.0,112.4 L501.0,112.1 L501.9,111.9 L502.9,111.6 L503.9,111.3 L504.8,111.1 L505.8,110.8 L506.7,110.5 L507.7,110.2 L508.7,109.9 L509.6,109.6 L510.6,109.3 L511.5,109.0 L512.5,108.7 L513.4,108.4 L514.4,108.1 L515.3,107.8 L516.3,107.5 L517.2,107.2 L518.2,106.9 L519.1,106.5 L520.1,106.2 L521.0,105.9 L521.9,105.5 L522.9,105.2 L523.8,104.9 L524.8,104.5 L525.7,104.2 L526.6,103.8 L527.6,103.5 L528.5,103.2 L529.5,102.8 L530.4,102.4 L531.3,102.1 L532.3,101.7 L533.2,101.4 L534.1,101.0 L535.1,100.7 L536.0,100.3 L536.9,99.9 L537.9,99.6 L538.8,99.2 L539.7,98.9 L540.7,98.5 L541.6,98.1 L542.5,97.8 L543.5,97.4 L544.4,97.1 L545.3,96.7 L546.3,96.3 L547.2,96.0 L548.1,95.6 L549.1,95.3 L550.0,94.9 L550.9,94.6 L551.9,94.2 L552.8,93.9 L553.7,93.5 L554.7,93.2 L555.6,92.8 L556.6,92.5 L557.5,92.1 L558.4,91.8 L559.4,91.4 L560.3,91.1 L561.2,90.8 L562.2,90.4 L563.1,90.1 L564.1,89.7 L565.0,89.4 L565.9,89.0 L566.9,88.7 L567.8,88.3 L568.8,88.0 L569.7,87.7 L570.6,87.3 L571.6,87.0 L572.5,86.6 L573.5,86.3 L574.4,85.9 L575.3,85.6 L576.3,85.2 L577.2,84.9 L578.1,84.6 L579.1,84.2 L580.0,83.9 L581.0,83.5 L581.9,83.2 L582.8,82.8 L583.8,82.5 L584.7,82.2 L585.7,81.8 L586.6,81.5 L587.5,81.1 L588.5,80.8 L589.4,80.4 L590.4,80.1 L591.3,79.8 L592.2,79.4 L593.2,79.1 L594.1,78.7 L595.1,78.4 L596.0,78.1 L596.9,77.7 L597.9,77.4 L598.8,77.0 L599.8,76.7 L600.7,76.4 L601.7,76.1 L602.6,75.7 L603.6,75.4 L604.5,75.1 L605.4,74.8 L606.4,74.4 L607.3,74.1 L608.3,73.8 L609.2,73.5 L610.2,73.2 L611.1,72.9 L612.1,72.6 L613.1,72.3 L614.0,72.0 L615.0,71.7 L615.9,71.4 L616.9,71.2 L617.8,70.9 L618.8,70.6 L619.8,70.3 L620.7,70.1 L621.7,69.8 L622.6,69.5 L623.6,69.3 L624.6,69.0 L625.5,68.7 L626.5,68.5 L627.5,68.2 L628.4,68.0 L629.4,67.7 L630.4,67.4 L631.3,67.2 L632.3,66.9 L633.3,66.7 L634.2,66.4 L635.2,66.2 L636.2,65.9 L637.1,65.7 L638.1,65.4 L639.1,65.1 L640.0,64.9 L641.0,64.6 L642.0,64.4 L642.9,64.1 L643.9,63.9 L644.9,63.6 L645.8,63.3 L646.8,63.1 L647.8,62.8 L648.7,62.6 L649.7,62.3 L650.7,62.1 L651.6,61.8 L652.6,61.6 L653.6,61.3 L654.5,61.1 L655.5,60.9 L656.5,60.6 L657.5,60.4 L658.4,60.1 L659.4,59.9 L660.4,59.7 L661.3,59.5 L662.3,59.2 L663.3,59.0 L664.3,58.8 L665.3,58.6 L666.2,58.4 L667.2,58.2 L668.2,58.0 L669.2,57.8 L670.1,57.6 L671.1,57.4 L672.1,57.2 L673.1,57.0 L674.1,56.8 L675.0,56.6 L676.0,56.4 L677.0,56.2 L678.0,56.0 L679.0,55.8 L680.0,55.6 L680.9,55.5 L681.9,55.3 L682.9,55.1 L683.9,54.9 L684.9,54.7 L685.9,54.5 L686.8,54.4 L687.8,54.2 L688.8,54.0 L689.8,53.8 L690.8,53.6 L691.8,53.5 L692.7,53.3 L693.7,53.1 L694.7,52.9 L695.7,52.8 L696.7,52.6 L697.7,52.4 L698.6,52.3 L699.6,52.1 L700.6,51.9 L701.6,51.8 L702.6,51.6 L703.6,51.4 L704.6,51.3 L705.6,51.1 L706.5,50.9 L707.5,50.8 L708.5,50.6 L709.5,50.4 L710.5,50.3 L711.5,50.1 L712.5,50.0 L713.4,49.8 L714.4,49.7 L715.4,49.5 L716.4,49.4 L717.4,49.2 L718.4,49.0 L719.4,48.9 L720.4,48.7 L721.4,48.6 L722.3,48.5 L723.3,48.3 L724.3,48.2 L725.3,48.0 L726.3,47.9 L727.3,47.7 L728.3,47.6 L729.3,47.4 L730.3,47.3 L731.3,47.2 L732.2,47.0 L733.2,46.9 L734.2,46.8 L735.2,46.6 L736.2,46.5 L737.2,46.4 L738.2,46.2 L739.2,46.1 L740.2,46.0 L741.2,45.9 L742.2,45.7 L743.2,45.6 L744.1,45.5 L745.1,45.4 L746.1,45.3 L747.1,45.1 L748.1,45.0 L749.1,44.9 L750.1,44.8 L751.1,44.7 L752.1,44.6 L753.1,44.5 L754.1,44.4 L755.1,44.3 L756.1,44.2 L757.1,44.0 L758.1,43.9 L759.0,43.8 L760.0,43.7 L761.0,43.6 L762.0,43.5 L763.0,43.4 L764.0,43.3 L765.0,43.2 L766.0,43.1 L767.0,43.0 L768.0,42.9 L769.0,42.8 L770.0,42.7 L771.0,42.7 L772.0,42.6 L773.0,42.5 L774.0,42.4 L775.0,42.3 L776.0,42.2 L777.0,42.1 L778.0,42.0 L779.0,41.9 L780.0,41.8 L780.9,41.7 L781.9,41.6 L782.9,41.5 L783.9,41.5 L784.9,41.4 L785.9,41.3 L786.9,41.2 L787.9,41.1 L788.9,41.0 L789.9,40.9 L790.9,40.9 L791.9,40.8 L792.9,40.7 L793.9,40.6 L794.9,40.5 L795.9,40.5 L796.9,40.4 L797.9,40.3 L798.9,40.2 L799.9,40.1 L800.9,40.1 L801.9,40.0 L802.9,39.9 L803.9,39.8 L804.9,39.8 L805.9,39.7 L806.9,39.6 L807.9,39.6 L808.9,39.5 L809.9,39.4 L810.9,39.4 L811.9,39.3 L812.8,39.2 L813.8,39.2 L814.8,39.1 L815.8,39.0 L816.8,39.0 L817.8,38.9 L818.8,38.8 L819.8,38.8 L820.8,38.7 L821.8,38.7 L822.8,38.6 L823.8,38.6 L824.8,38.5 L825.8,38.5 L826.8,38.4 L827.8,38.3 L828.8,38.3 L829.8,38.2 L830.8,38.2 L831.8,38.1 L832.8,38.1 L833.8,38.0 L834.8,38.0 L835.8,37.9 L836.8,37.9 L837.8,37.8 L838.8,37.8 L839.8,37.7 L840.8,37.7 L841.8,37.6 L842.8,37.6 L843.8,37.6 L844.8,37.5 L845.8,37.5 L846.8,37.4 L847.8,37.4 L848.8,37.3 L849.8,37.3 L850.8,37.2 L851.8,37.2 L852.8,37.2 L853.8,37.1 L854.8,37.1 L855.8,37.0 L856.8,37.0 L857.8,36.9 L858.8,36.9 L859.8,36.9 L860.8,36.8 L861.8,36.8 L862.8,36.7 L863.7,36.7 L864.7,36.7 L865.7,36.6 L866.7,36.6 L867.7,36.6 L868.7,36.5 L869.7,36.5 L870.7,36.4 L871.7,36.4 L872.6,36.4 L873.6,36.3 L874.6,36.3 L875.6,36.3 L876.6,36.2 L877.6,36.2 L878.5,36.2 L879.5,36.1 L880.0,36.1" fill="none" stroke="#ff3399" stroke-width="3.6" stroke-linecap="round" stroke-linejoin="round" stroke-dasharray="13.3 8.7"/>
<path d="M120.0,49.9 L121.0,50.0 L122.0,50.2 L123.0,50.3 L124.0,50.5 L124.9,50.6 L125.9,50.8 L126.9,50.9 L127.9,51.1 L128.9,51.2 L129.9,51.4 L130.9,51.6 L131.9,51.7 L132.9,51.9 L133.8,52.0 L134.8,52.2 L135.8,52.3 L136.8,52.5 L137.8,52.7 L138.8,52.8 L139.8,53.0 L140.7,53.2 L141.7,53.4 L142.7,53.5 L143.7,53.7 L144.7,53.9 L145.7,54.1 L146.6,54.3 L147.6,54.4 L148.6,54.6 L149.6,54.8 L150.6,55.0 L151.6,55.2 L152.5,55.4 L153.5,55.6 L154.5,55.8 L155.5,56.0 L156.5,56.2 L157.4,56.4 L158.4,56.6 L159.4,56.8 L160.4,57.0 L161.3,57.2 L162.3,57.4 L163.3,57.6 L164.3,57.8 L165.3,58.1 L166.2,58.3 L167.2,58.5 L168.2,58.7 L169.2,58.9 L170.1,59.2 L171.1,59.4 L172.1,59.6 L173.1,59.8 L174.0,60.0 L175.0,60.3 L176.0,60.5 L177.0,60.7 L177.9,60.9 L178.9,61.2 L179.9,61.4 L180.8,61.6 L181.8,61.9 L182.8,62.1 L183.8,62.3 L184.7,62.6 L185.7,62.8 L186.7,63.0 L187.7,63.3 L188.6,63.5 L189.6,63.7 L190.6,64.0 L191.5,64.2 L192.5,64.5 L193.5,64.7 L194.5,64.9 L195.4,65.2 L196.4,65.4 L197.4,65.7 L198.3,65.9 L199.3,66.2 L200.3,66.4 L201.2,66.7 L202.2,66.9 L203.2,67.2 L204.1,67.4 L205.1,67.7 L206.1,67.9 L207.0,68.2 L208.0,68.4 L209.0,68.7 L209.9,69.0 L210.9,69.2 L211.9,69.5 L212.8,69.8 L213.8,70.0 L214.8,70.3 L215.7,70.6 L216.7,70.9 L217.6,71.1 L218.6,71.4 L219.6,71.7 L220.5,72.0 L221.5,72.3 L222.4,72.6 L223.4,72.8 L224.3,73.1 L225.3,73.4 L226.3,73.7 L227.2,74.0 L228.2,74.3 L229.1,74.6 L230.1,74.9 L231.0,75.2 L232.0,75.5 L232.9,75.8 L233.9,76.1 L234.8,76.4 L235.8,76.7 L236.7,77.0 L237.7,77.3 L238.7,77.6 L239.6,77.9 L240.6,78.2 L241.5,78.6 L242.5,78.9 L243.4,79.2 L244.4,79.5 L245.3,79.8 L246.3,80.1 L247.2,80.4 L248.2,80.8 L249.1,81.1 L250.0,81.4 L251.0,81.7 L251.9,82.0 L252.9,82.4 L253.8,82.7 L254.8,83.0 L255.7,83.4 L256.7,83.7 L257.6,84.0 L258.5,84.4 L259.5,84.7 L260.4,85.1 L261.3,85.4 L262.3,85.8 L263.2,86.1 L264.2,86.5 L265.1,86.8 L266.0,87.2 L267.0,87.6 L267.9,87.9 L268.8,88.3 L269.7,88.7 L270.7,89.0 L271.6,89.4 L272.5,89.8 L273.5,90.2 L274.4,90.5 L275.3,90.9 L276.2,91.3 L277.1,91.7 L278.1,92.1 L279.0,92.5 L279.9,92.8 L280.8,93.2 L281.8,93.6 L282.7,94.0 L283.6,94.4 L284.5,94.8 L285.4,95.2 L286.3,95.6 L287.3,96.0 L288.2,96.4 L289.1,96.8 L290.0,97.2 L290.9,97.7 L291.8,98.1 L292.7,98.5 L293.6,98.9 L294.5,99.3 L295.5,99.7 L296.4,100.2 L297.3,100.6 L298.2,101.0 L299.1,101.4 L300.0,101.9 L300.9,102.3 L301.8,102.7 L302.7,103.2 L303.6,103.6 L304.5,104.0 L305.4,104.5 L306.3,104.9 L307.2,105.4 L308.1,105.8 L309.0,106.2 L309.8,106.7 L310.7,107.1 L311.6,107.6 L312.5,108.1 L313.4,108.5 L314.3,109.0 L315.2,109.4 L316.1,109.9 L317.0,110.3 L317.9,110.8 L318.7,111.3 L319.6,111.7 L320.5,112.2 L321.4,112.7 L322.3,113.1 L323.2,113.6 L324.0,114.1 L324.9,114.6 L325.8,115.0 L326.7,115.5 L327.6,116.0 L328.4,116.5 L329.3,116.9 L330.2,117.4 L331.1,117.9 L332.0,118.4 L332.8,118.9 L333.7,119.3 L334.6,119.8 L335.5,120.3 L336.3,120.8 L337.2,121.3 L338.1,121.7 L339.0,122.2 L339.8,122.7 L340.7,123.2 L341.6,123.7 L342.5,124.2 L343.3,124.6 L344.2,125.1 L345.1,125.6 L346.0,126.1 L346.8,126.6 L347.7,127.1 L348.6,127.5 L349.5,128.0 L350.3,128.5 L351.2,129.0 L352.1,129.5 L353.0,130.0 L353.8,130.4 L354.7,130.9 L355.6,131.4 L356.5,131.9 L357.4,132.4 L358.2,132.8 L359.1,133.3 L360.0,133.8 L360.9,134.3 L361.7,134.8 L362.6,135.2 L363.5,135.7 L364.4,136.2 L365.3,136.7 L366.1,137.1 L367.0,137.6 L367.9,138.1 L368.8,138.5 L369.7,139.0 L370.6,139.5 L371.4,139.9 L372.3,140.4 L373.2,140.9 L374.1,141.3 L375.0,141.8 L375.9,142.3 L376.8,142.7 L377.6,143.2 L378.5,143.7 L379.4,144.1 L380.3,144.6 L381.2,145.0 L382.1,145.5 L383.0,146.0 L383.9,146.4 L384.8,146.9 L385.7,147.3 L386.5,147.8 L387.4,148.3 L388.3,148.7 L389.2,149.2 L390.1,149.6 L391.0,150.0 L391.9,150.5 L392.8,150.9 L393.7,151.3 L394.6,151.8 L395.5,152.2 L396.4,152.6 L397.3,153.0 L398.3,153.4 L399.2,153.8 L400.1,154.1 L401.0,154.5 L401.9,154.8 L402.9,155.2 L403.8,155.5 L404.7,155.8 L405.7,156.1 L406.6,156.4 L407.6,156.6 L408.5,156.9 L409.5,157.1 L410.4,157.3 L411.4,157.5 L412.4,157.7 L413.3,157.8 L414.3,158.0 L415.3,158.1 L416.2,158.2 L417.2,158.3 L418.2,158.4 L419.2,158.4 L420.2,158.5 L421.1,158.5 L422.1,158.5 L423.1,158.5 L424.1,158.5 L425.1,158.4 L426.1,158.4 L427.0,158.3 L428.0,158.2 L429.0,158.1 L430.0,158.0 L431.0,157.9 L432.0,157.7 L432.9,157.6 L433.9,157.4 L434.9,157.2 L435.9,157.0 L436.8,156.8 L437.8,156.6 L438.8,156.4 L439.7,156.1 L440.7,155.9 L441.6,155.6 L442.6,155.4 L443.6,155.1 L444.5,154.8 L445.4,154.5 L446.4,154.2 L447.3,153.9 L448.3,153.5 L449.2,153.2 L450.1,152.9 L451.1,152.5 L452.0,152.1 L452.9,151.8 L453.8,151.4 L454.8,151.0 L455.7,150.6 L456.6,150.2 L457.5,149.8 L458.4,149.4 L459.3,149.0 L460.3,148.6 L461.2,148.2 L462.1,147.8 L463.0,147.4 L463.9,146.9 L464.8,146.5 L465.7,146.1 L466.6,145.7 L467.5,145.3 L468.4,144.8 L469.3,144.4 L470.2,144.0 L471.1,143.6 L472.0,143.1 L472.9,142.7 L473.8,142.3 L474.7,141.8 L475.6,141.4 L476.5,140.9 L477.4,140.5 L478.3,140.1 L479.2,139.6 L480.1,139.2 L481.0,138.7 L481.9,138.3 L482.8,137.8 L483.7,137.4 L484.6,136.9 L485.4,136.4 L486.3,136.0 L487.2,135.5 L488.1,135.0 L489.0,134.6 L489.9,134.1 L490.7,133.6 L491.6,133.2 L492.5,132.7 L493.4,132.2 L494.3,131.7 L495.2,131.3 L496.0,130.8 L496.9,130.3 L497.8,129.9 L498.7,129.4 L499.6,128.9 L500.5,128.5 L501.3,128.0 L502.2,127.5 L503.1,127.1 L504.0,126.6 L504.9,126.2 L505.8,125.7 L506.7,125.3 L507.6,124.8 L508.5,124.4 L509.4,124.0 L510.3,123.5 L511.2,123.1 L512.1,122.7 L513.0,122.2 L513.9,121.8 L514.8,121.4 L515.7,121.0 L516.6,120.6 L517.5,120.2 L518.5,119.8 L519.4,119.4 L520.3,119.0 L521.2,118.6 L522.1,118.2 L523.1,117.8 L524.0,117.5 L524.9,117.1 L525.8,116.7 L526.8,116.4 L527.7,116.0 L528.6,115.6 L529.6,115.3 L530.5,114.9 L531.4,114.6 L532.4,114.2 L533.3,113.8 L534.2,113.5 L535.2,113.2 L536.1,112.8 L537.0,112.5 L538.0,112.1 L538.9,111.8 L539.9,111.4 L540.8,111.1 L541.7,110.7 L542.7,110.4 L543.6,110.0 L544.6,109.7 L545.5,109.4 L546.4,109.0 L547.4,108.7 L548.3,108.3 L549.2,108.0 L550.2,107.6 L551.1,107.3 L552.1,106.9 L553.0,106.6 L553.9,106.3 L554.9,105.9 L555.8,105.6 L556.8,105.2 L557.7,104.9 L558.6,104.6 L559.6,104.2 L560.5,103.9 L561.5,103.6 L562.4,103.2 L563.4,102.9 L564.3,102.6 L565.3,102.2 L566.2,101.9 L567.1,101.6 L568.1,101.3 L569.0,101.0 L570.0,100.7 L570.9,100.4 L571.9,100.0 L572.8,99.7 L573.8,99.4 L574.7,99.1 L575.7,98.8 L576.7,98.5 L577.6,98.2 L578.6,98.0 L579.5,97.7 L580.5,97.4 L581.4,97.1 L582.4,96.8 L583.4,96.5 L584.3,96.2 L585.3,96.0 L586.2,95.7 L587.2,95.4 L588.2,95.1 L589.1,94.9 L590.1,94.6 L591.0,94.3 L592.0,94.0 L593.0,93.8 L593.9,93.5 L594.9,93.2 L595.9,93.0 L596.8,92.7 L597.8,92.4 L598.8,92.2 L599.7,91.9 L600.7,91.7 L601.7,91.4 L602.6,91.2 L603.6,90.9 L604.6,90.7 L605.5,90.4 L606.5,90.2 L607.5,89.9 L608.4,89.7 L609.4,89.4 L610.4,89.2 L611.4,89.0 L612.3,88.7 L613.3,88.5 L614.3,88.3 L615.2,88.1 L616.2,87.9 L617.2,87.6 L618.2,87.4 L619.1,87.2 L620.1,87.0 L621.1,86.8 L622.1,86.6 L623.1,86.4 L624.0,86.2 L625.0,86.0 L626.0,85.8 L627.0,85.6 L628.0,85.4 L628.9,85.2 L629.9,85.0 L630.9,84.8 L631.9,84.6 L632.9,84.4 L633.8,84.2 L634.8,84.0 L635.8,83.8 L636.8,83.6 L637.8,83.4 L638.7,83.2 L639.7,83.0 L640.7,82.8 L641.7,82.6 L642.7,82.4 L643.6,82.2 L644.6,82.0 L645.6,81.8 L646.6,81.6 L647.6,81.4 L648.5,81.2 L649.5,81.0 L650.5,80.9 L651.5,80.7 L652.5,80.5 L653.5,80.3 L654.4,80.1 L655.4,79.9 L656.4,79.7 L657.4,79.6 L658.4,79.4 L659.4,79.2 L660.3,79.0 L661.3,78.9 L662.3,78.7 L663.3,78.5 L664.3,78.3 L665.3,78.2 L666.3,78.0 L667.2,77.8 L668.2,77.7 L669.2,77.5 L670.2,77.4 L671.2,77.2 L672.2,77.0 L673.2,76.9 L674.1,76.7 L675.1,76.6 L676.1,76.4 L677.1,76.3 L678.1,76.1 L679.1,76.0 L680.1,75.8 L681.1,75.7 L682.1,75.5 L683.0,75.4 L684.0,75.3 L685.0,75.1 L686.0,75.0 L687.0,74.8 L688.0,74.7 L689.0,74.6 L690.0,74.4 L691.0,74.3 L692.0,74.2 L693.0,74.0 L693.9,73.9 L694.9,73.8 L695.9,73.6 L696.9,73.5 L697.9,73.4 L698.9,73.2 L699.9,73.1 L700.9,73.0 L701.9,72.8 L702.9,72.7 L703.9,72.6 L704.9,72.5 L705.8,72.3 L706.8,72.2 L707.8,72.1 L708.8,72.0 L709.8,71.8 L710.8,71.7 L711.8,71.6 L712.8,71.5 L713.8,71.4 L714.8,71.2 L715.8,71.1 L716.8,71.0 L717.8,70.9 L718.7,70.8 L719.7,70.7 L720.7,70.5 L721.7,70.4 L722.7,70.3 L723.7,70.2 L724.7,70.1 L725.7,70.0 L726.7,69.9 L727.7,69.8 L728.7,69.7 L729.7,69.6 L730.7,69.5 L731.7,69.4 L732.7,69.3 L733.7,69.2 L734.7,69.1 L735.6,68.9 L736.6,68.8 L737.6,68.7 L738.6,68.6 L739.6,68.5 L740.6,68.4 L741.6,68.3 L742.6,68.2 L743.6,68.1 L744.6,68.0 L745.6,67.9 L746.6,67.8 L747.6,67.7 L748.6,67.6 L749.6,67.5 L750.6,67.4 L751.6,67.3 L752.6,67.2 L753.6,67.1 L754.6,67.0 L755.5,66.9 L756.5,66.8 L757.5,66.7 L758.5,66.6 L759.5,66.5 L760.5,66.4 L761.5,66.3 L762.5,66.2 L763.5,66.1 L764.5,66.0 L765.5,66.0 L766.5,65.9 L767.5,65.8 L768.5,65.7 L769.5,65.6 L770.5,65.5 L771.5,65.4 L772.5,65.4 L773.5,65.3 L774.5,65.2 L775.5,65.1 L776.5,65.0 L777.5,64.9 L778.5,64.9 L779.4,64.8 L780.4,64.7 L781.4,64.6 L782.4,64.5 L783.4,64.5 L784.4,64.4 L785.4,64.3 L786.4,64.2 L787.4,64.1 L788.4,64.1 L789.4,64.0 L790.4,63.9 L791.4,63.8 L792.4,63.7 L793.4,63.6 L794.4,63.6 L795.4,63.5 L796.4,63.4 L797.4,63.3 L798.4,63.2 L799.4,63.1 L800.4,63.1 L801.4,63.0 L802.4,62.9 L803.4,62.8 L804.4,62.7 L805.4,62.6 L806.4,62.6 L807.4,62.5 L808.3,62.4 L809.3,62.3 L810.3,62.3 L811.3,62.2 L812.3,62.1 L813.3,62.0 L814.3,62.0 L815.3,61.9 L816.3,61.8 L817.3,61.8 L818.3,61.7 L819.3,61.7 L820.3,61.6 L821.3,61.5 L822.3,61.5 L823.3,61.4 L824.3,61.4 L825.3,61.3 L826.3,61.2 L827.3,61.2 L828.3,61.1 L829.3,61.1 L830.3,61.0 L831.3,61.0 L832.3,60.9 L833.3,60.9 L834.3,60.8 L835.3,60.8 L836.3,60.7 L837.3,60.7 L838.3,60.6 L839.3,60.6 L840.3,60.5 L841.3,60.5 L842.3,60.4 L843.3,60.4 L844.3,60.3 L845.3,60.3 L846.3,60.2 L847.3,60.2 L848.3,60.1 L849.3,60.1 L850.3,60.0 L851.3,60.0 L852.3,59.9 L853.3,59.9 L854.3,59.8 L855.3,59.8 L856.3,59.7 L857.3,59.6 L858.3,59.6 L859.3,59.5 L860.2,59.5 L861.2,59.4 L862.2,59.4 L863.2,59.3 L864.2,59.2 L865.2,59.2 L866.2,59.1 L867.2,59.1 L868.2,59.0 L869.2,59.0 L870.2,58.9 L871.2,58.8 L872.1,58.8 L873.1,58.7 L874.1,58.7 L875.1,58.6 L876.1,58.5 L877.1,58.5 L878.0,58.4 L879.0,58.4 L880.0,58.3 L880.0,58.3" fill="none" stroke="#cc6600" stroke-width="3.6" stroke-linecap="round" stroke-linejoin="round" stroke-dasharray="13.3 8.7"/>
<path d="M120.0,39.0 L121.0,39.1 L122.0,39.2 L123.0,39.2 L124.0,39.3 L125.0,39.4 L126.0,39.5 L127.0,39.6 L128.0,39.7 L129.0,39.8 L130.0,39.8 L131.0,39.9 L132.0,40.0 L133.0,40.1 L134.0,40.2 L134.9,40.3 L135.9,40.4 L136.9,40.5 L137.9,40.6 L138.9,40.7 L139.9,40.8 L140.9,40.9 L141.9,41.0 L142.9,41.1 L143.9,41.2 L144.9,41.3 L145.9,41.4 L146.9,41.5 L147.9,41.6 L148.9,41.7 L149.9,41.8 L150.9,42.0 L151.8,42.1 L152.8,42.2 L153.8,42.3 L154.8,42.4 L155.8,42.5 L156.8,42.7 L157.8,42.8 L158.8,42.9 L159.8,43.1 L160.8,43.2 L161.8,43.3 L162.8,43.4 L163.8,43.6 L164.7,43.7 L165.7,43.9 L166.7,44.0 L167.7,44.1 L168.7,44.3 L169.7,44.4 L170.7,44.6 L171.7,44.7 L172.7,44.8 L173.7,45.0 L174.6,45.1 L175.6,45.3 L176.6,45.4 L177.6,45.6 L178.6,45.7 L179.6,45.9 L180.6,46.0 L181.6,46.2 L182.6,46.3 L183.5,46.5 L184.5,46.6 L185.5,46.8 L186.5,46.9 L187.5,47.1 L188.5,47.3 L189.5,47.4 L190.5,47.6 L191.4,47.7 L192.4,47.9 L193.4,48.1 L194.4,48.2 L195.4,48.4 L196.4,48.5 L197.4,48.7 L198.3,48.9 L199.3,49.0 L200.3,49.2 L201.3,49.4 L202.3,49.6 L203.3,49.7 L204.3,49.9 L205.2,50.1 L206.2,50.3 L207.2,50.4 L208.2,50.6 L209.2,50.8 L210.2,51.0 L211.1,51.2 L212.1,51.4 L213.1,51.5 L214.1,51.7 L215.1,51.9 L216.0,52.1 L217.0,52.3 L218.0,52.5 L219.0,52.7 L220.0,52.9 L220.9,53.1 L221.9,53.3 L222.9,53.5 L223.9,53.8 L224.9,54.0 L225.8,54.2 L226.8,54.4 L227.8,54.6 L228.8,54.8 L229.7,55.1 L230.7,55.3 L231.7,55.5 L232.7,55.7 L233.6,56.0 L234.6,56.2 L235.6,56.4 L236.6,56.6 L237.5,56.9 L238.5,57.1 L239.5,57.3 L240.4,57.6 L241.4,57.8 L242.4,58.0 L243.4,58.3 L244.3,58.5 L245.3,58.8 L246.3,59.0 L247.2,59.2 L248.2,59.5 L249.2,59.7 L250.2,59.9 L251.1,60.2 L252.1,60.4 L253.1,60.7 L254.0,60.9 L255.0,61.1 L256.0,61.4 L257.0,61.6 L257.9,61.8 L258.9,62.1 L259.9,62.3 L260.9,62.5 L261.8,62.8 L262.8,63.0 L263.8,63.2 L264.7,63.4 L265.7,63.7 L266.7,63.9 L267.7,64.1 L268.6,64.4 L269.6,64.6 L270.6,64.8 L271.6,65.1 L272.5,65.3 L273.5,65.5 L274.5,65.8 L275.4,66.0 L276.4,66.2 L277.4,66.5 L278.4,66.7 L279.3,67.0 L280.3,67.2 L281.3,67.5 L282.2,67.7 L283.2,68.0 L284.2,68.2 L285.1,68.5 L286.1,68.7 L287.1,69.0 L288.0,69.2 L289.0,69.5 L289.9,69.8 L290.9,70.1 L291.9,70.3 L292.8,70.6 L293.8,70.9 L294.8,71.1 L295.7,71.4 L296.7,71.7 L297.6,72.0 L298.6,72.3 L299.6,72.6 L300.5,72.8 L301.5,73.1 L302.4,73.4 L303.4,73.7 L304.3,74.0 L305.3,74.3 L306.2,74.6 L307.2,74.9 L308.2,75.2 L309.1,75.5 L310.1,75.8 L311.0,76.1 L312.0,76.4 L312.9,76.7 L313.9,77.0 L314.8,77.3 L315.8,77.6 L316.7,78.0 L317.7,78.3 L318.6,78.6 L319.6,78.9 L320.5,79.2 L321.5,79.5 L322.4,79.9 L323.4,80.2 L324.3,80.5 L325.2,80.8 L326.2,81.2 L327.1,81.5 L328.1,81.8 L329.0,82.2 L330.0,82.5 L330.9,82.9 L331.8,83.2 L332.8,83.6 L333.7,83.9 L334.6,84.3 L335.6,84.6 L336.5,85.0 L337.5,85.3 L338.4,85.7 L339.3,86.0 L340.2,86.4 L341.2,86.8 L342.1,87.1 L343.0,87.5 L344.0,87.9 L344.9,88.3 L345.8,88.6 L346.7,89.0 L347.7,89.4 L348.6,89.8 L349.5,90.2 L350.4,90.6 L351.3,91.0 L352.2,91.4 L353.2,91.8 L354.1,92.2 L355.0,92.6 L355.9,93.0 L356.8,93.4 L357.7,93.8 L358.6,94.2 L359.5,94.7 L360.5,95.1 L361.4,95.5 L362.3,95.9 L363.2,96.3 L364.1,96.8 L365.0,97.2 L365.9,97.6 L366.8,98.0 L367.7,98.5 L368.6,98.9 L369.5,99.3 L370.4,99.8 L371.3,100.2 L372.2,100.6 L373.1,101.1 L374.0,101.5 L374.9,101.9 L375.8,102.4 L376.7,102.8 L377.6,103.3 L378.5,103.7 L379.4,104.2 L380.3,104.6 L381.2,105.1 L382.1,105.5 L383.0,106.0 L383.8,106.4 L384.7,106.9 L385.6,107.4 L386.5,107.8 L387.4,108.3 L388.2,108.8 L389.1,109.3 L390.0,109.8 L390.9,110.2 L391.7,110.7 L392.6,111.2 L393.5,111.7 L394.3,112.2 L395.2,112.8 L396.0,113.3 L396.9,113.8 L397.7,114.3 L398.6,114.8 L399.4,115.4 L400.3,115.9 L401.1,116.4 L401.9,117.0 L402.8,117.5 L403.6,118.1 L404.4,118.7 L405.3,119.2 L406.1,119.8 L406.9,120.3 L407.7,120.9 L408.6,121.5 L409.4,122.1 L410.2,122.6 L411.0,123.2 L411.8,123.8 L412.6,124.4 L413.4,125.0 L414.2,125.6 L415.0,126.2 L415.8,126.8 L416.6,127.4 L417.4,128.0 L418.2,128.6 L419.0,129.2 L419.8,129.8 L420.6,130.4 L421.4,131.0 L422.2,131.6 L423.0,132.2 L423.8,132.8 L424.6,133.4 L425.4,134.0 L426.2,134.6 L427.0,135.3 L427.8,135.9 L428.6,136.5 L429.3,137.1 L430.1,137.7 L430.9,138.3 L431.7,138.9 L432.5,139.5 L433.3,140.2 L434.1,140.8 L434.9,141.4 L435.6,142.0 L436.4,142.6 L437.2,143.3 L438.0,143.9 L438.8,144.5 L439.5,145.1 L440.3,145.8 L441.1,146.4 L441.9,147.0 L442.6,147.7 L443.4,148.3 L444.2,149.0 L444.9,149.6 L445.7,150.2 L446.5,150.9 L447.2,151.5 L448.0,152.2 L448.7,152.8 L449.5,153.5 L450.3,154.1 L451.0,154.8 L451.8,155.5 L452.5,156.1 L453.3,156.8 L454.0,157.4 L454.8,158.1 L455.5,158.7 L456.3,159.4 L457.0,160.1 L457.8,160.7 L458.5,161.4 L459.3,162.1 L460.0,162.7 L460.8,163.4 L461.5,164.0 L462.3,164.7 L463.0,165.4 L463.8,166.0 L464.6,166.7 L465.3,167.3 L466.1,168.0 L466.8,168.7 L467.6,169.3 L468.3,170.0 L469.1,170.6 L469.8,171.3 L470.6,172.0 L471.3,172.7 L472.1,173.3 L472.8,174.0 L473.5,174.7 L474.3,175.3 L475.0,176.0 L475.8,176.7 L476.5,177.3 L477.3,177.9 L478.1,178.5 L478.9,179.1 L479.7,179.7 L480.5,180.3 L481.4,180.8 L482.2,181.3 L483.1,181.8 L484.0,182.2 L485.0,182.7 L485.9,183.1 L486.8,183.5 L487.7,183.8 L488.7,184.1 L489.6,184.3 L490.6,184.6 L491.6,184.8 L492.6,185.0 L493.6,185.3 L494.6,185.4 L495.6,185.6 L496.6,185.7 L497.5,185.8 L498.5,185.8 L499.5,185.8 L500.5,185.7 L501.5,185.5 L502.5,185.3 L503.5,185.1 L504.5,184.8 L505.5,184.6 L506.4,184.3 L507.4,184.0 L508.3,183.7 L509.2,183.4 L510.1,183.0 L511.0,182.6 L511.9,182.1 L512.8,181.6 L513.7,181.1 L514.6,180.6 L515.4,180.1 L516.3,179.5 L517.1,179.0 L518.0,178.4 L518.8,177.9 L519.6,177.3 L520.4,176.7 L521.2,176.1 L522.0,175.5 L522.8,174.8 L523.5,174.2 L524.3,173.5 L525.1,172.9 L525.8,172.2 L526.6,171.6 L527.3,170.9 L528.0,170.2 L528.8,169.5 L529.5,168.9 L530.2,168.2 L531.0,167.5 L531.7,166.8 L532.4,166.1 L533.2,165.5 L533.9,164.8 L534.6,164.1 L535.4,163.4 L536.1,162.8 L536.9,162.1 L537.6,161.5 L538.3,160.8 L539.1,160.1 L539.9,159.5 L540.6,158.8 L541.4,158.2 L542.1,157.5 L542.9,156.9 L543.7,156.3 L544.4,155.6 L545.2,155.0 L546.0,154.4 L546.8,153.8 L547.6,153.1 L548.3,152.5 L549.1,151.9 L549.9,151.3 L550.7,150.7 L551.5,150.1 L552.3,149.5 L553.1,148.9 L553.9,148.3 L554.7,147.7 L555.5,147.1 L556.3,146.5 L557.1,145.9 L558.0,145.3 L558.8,144.8 L559.6,144.2 L560.4,143.6 L561.2,143.0 L562.0,142.4 L562.8,141.8 L563.6,141.2 L564.4,140.6 L565.2,140.0 L566.0,139.4 L566.8,138.8 L567.6,138.2 L568.4,137.6 L569.2,137.0 L570.0,136.4 L570.8,135.8 L571.6,135.2 L572.4,134.6 L573.2,134.0 L574.0,133.4 L574.8,132.8 L575.6,132.2 L576.4,131.6 L577.2,131.0 L577.9,130.4 L578.8,129.8 L579.6,129.2 L580.4,128.6 L581.2,128.0 L582.0,127.4 L582.8,126.8 L583.6,126.2 L584.4,125.7 L585.2,125.1 L586.1,124.5 L586.9,124.0 L587.7,123.4 L588.5,122.9 L589.4,122.3 L590.2,121.8 L591.1,121.2 L591.9,120.7 L592.8,120.2 L593.6,119.7 L594.5,119.1 L595.3,118.6 L596.2,118.1 L597.0,117.6 L597.9,117.1 L598.8,116.6 L599.6,116.1 L600.5,115.6 L601.4,115.1 L602.2,114.6 L603.1,114.2 L604.0,113.7 L604.9,113.2 L605.8,112.7 L606.6,112.3 L607.5,111.8 L608.4,111.4 L609.3,110.9 L610.2,110.5 L611.1,110.0 L612.0,109.6 L612.9,109.1 L613.8,108.7 L614.7,108.2 L615.6,107.8 L616.5,107.4 L617.4,107.0 L618.3,106.6 L619.2,106.1 L620.1,105.7 L621.0,105.3 L622.0,104.9 L622.9,104.5 L623.8,104.1 L624.7,103.7 L625.6,103.3 L626.5,102.9 L627.5,102.5 L628.4,102.1 L629.3,101.8 L630.2,101.4 L631.2,101.0 L632.1,100.6 L633.0,100.3 L633.9,99.9 L634.9,99.5 L635.8,99.2 L636.7,98.8 L637.7,98.4 L638.6,98.1 L639.5,97.7 L640.5,97.3 L641.4,97.0 L642.3,96.6 L643.3,96.3 L644.2,95.9 L645.1,95.6 L646.1,95.2 L647.0,94.9 L647.9,94.5 L648.9,94.2 L649.8,93.8 L650.8,93.5 L651.7,93.1 L652.6,92.8 L653.6,92.4 L654.5,92.1 L655.4,91.7 L656.4,91.4 L657.3,91.1 L658.3,90.7 L659.2,90.4 L660.2,90.0 L661.1,89.7 L662.0,89.4 L663.0,89.0 L663.9,88.7 L664.9,88.4 L665.8,88.1 L666.8,87.7 L667.7,87.4 L668.6,87.1 L669.6,86.8 L670.5,86.4 L671.5,86.1 L672.4,85.8 L673.4,85.5 L674.3,85.2 L675.3,84.8 L676.2,84.5 L677.2,84.2 L678.1,83.9 L679.1,83.6 L680.0,83.3 L681.0,83.0 L681.9,82.7 L682.9,82.4 L683.8,82.1 L684.8,81.8 L685.8,81.5 L686.7,81.2 L687.7,80.9 L688.6,80.6 L689.6,80.3 L690.5,80.1 L691.5,79.8 L692.5,79.5 L693.4,79.2 L694.4,78.9 L695.3,78.6 L696.3,78.3 L697.3,78.1 L698.2,77.8 L699.2,77.5 L700.1,77.2 L701.1,77.0 L702.1,76.7 L703.0,76.4 L704.0,76.1 L704.9,75.9 L705.9,75.6 L706.9,75.3 L707.8,75.1 L708.8,74.8 L709.8,74.5 L710.7,74.3 L711.7,74.0 L712.7,73.7 L713.6,73.5 L714.6,73.2 L715.6,73.0 L716.5,72.7 L717.5,72.5 L718.5,72.2 L719.4,72.0 L720.4,71.7 L721.4,71.5 L722.3,71.2 L723.3,71.0 L724.3,70.7 L725.2,70.5 L726.2,70.3 L727.2,70.0 L728.2,69.8 L729.1,69.6 L730.1,69.3 L731.1,69.1 L732.1,68.9 L733.0,68.7 L734.0,68.4 L735.0,68.2 L736.0,68.0 L736.9,67.8 L737.9,67.5 L738.9,67.3 L739.9,67.1 L740.8,66.9 L741.8,66.7 L742.8,66.5 L743.8,66.3 L744.7,66.0 L745.7,65.8 L746.7,65.6 L747.7,65.4 L748.6,65.2 L749.6,65.0 L750.6,64.8 L751.6,64.6 L752.6,64.4 L753.5,64.2 L754.5,64.0 L755.5,63.8 L756.5,63.6 L757.5,63.4 L758.4,63.2 L759.4,63.0 L760.4,62.8 L761.4,62.6 L762.4,62.4 L763.3,62.2 L764.3,62.0 L765.3,61.8 L766.3,61.6 L767.3,61.4 L768.2,61.2 L769.2,61.0 L770.2,60.8 L771.2,60.6 L772.2,60.4 L773.1,60.2 L774.1,60.0 L775.1,59.8 L776.1,59.6 L777.1,59.5 L778.1,59.3 L779.0,59.1 L780.0,58.9 L781.0,58.7 L782.0,58.6 L783.0,58.4 L784.0,58.2 L784.9,58.0 L785.9,57.9 L786.9,57.7 L787.9,57.5 L788.9,57.4 L789.9,57.2 L790.9,57.1 L791.9,56.9 L792.8,56.8 L793.8,56.6 L794.8,56.5 L795.8,56.3 L796.8,56.2 L797.8,56.1 L798.8,55.9 L799.8,55.8 L800.8,55.7 L801.7,55.5 L802.7,55.4 L803.7,55.3 L804.7,55.1 L805.7,55.0 L806.7,54.9 L807.7,54.7 L808.7,54.6 L809.7,54.5 L810.7,54.4 L811.7,54.2 L812.7,54.1 L813.7,54.0 L814.6,53.9 L815.6,53.7 L816.6,53.6 L817.6,53.5 L818.6,53.3 L819.6,53.2 L820.6,53.1 L821.6,53.0 L822.6,52.8 L823.6,52.7 L824.6,52.6 L825.6,52.5 L826.5,52.3 L827.5,52.2 L828.5,52.1 L829.5,51.9 L830.5,51.8 L831.5,51.7 L832.5,51.6 L833.5,51.4 L834.5,51.3 L835.5,51.2 L836.5,51.1 L837.5,50.9 L838.5,50.8 L839.4,50.7 L840.4,50.6 L841.4,50.4 L842.4,50.3 L843.4,50.2 L844.4,50.1 L845.4,50.0 L846.4,49.8 L847.4,49.7 L848.4,49.6 L849.4,49.5 L850.4,49.4 L851.4,49.3 L852.3,49.2 L853.3,49.0 L854.3,48.9 L855.3,48.8 L856.3,48.7 L857.3,48.6 L858.3,48.5 L859.3,48.4 L860.3,48.3 L861.3,48.2 L862.3,48.1 L863.3,48.0 L864.3,47.9 L865.2,47.8 L866.2,47.7 L867.2,47.6 L868.2,47.5 L869.2,47.4 L870.2,47.3 L871.2,47.2 L872.1,47.1 L873.1,47.0 L874.1,46.9 L875.1,46.8 L876.1,46.7 L877.1,46.6 L878.0,46.5 L879.0,46.4 L880.0,46.3 L880.0,46.3" fill="none" stroke="#6666cc" stroke-width="3.6" stroke-linecap="round" stroke-linejoin="round" stroke-dasharray="13.3 8.7"/>
<path d="M120.0,44.0 L121.0,44.1 L122.0,44.2 L123.0,44.3 L124.0,44.3 L125.0,44.4 L126.0,44.5 L127.0,44.6 L128.0,44.7 L129.0,44.8 L130.0,44.9 L131.0,45.0 L132.0,45.1 L132.9,45.1 L133.9,45.2 L134.9,45.3 L135.9,45.4 L136.9,45.5 L137.9,45.6 L138.9,45.7 L139.9,45.8 L140.9,45.9 L141.9,46.0 L142.9,46.1 L143.9,46.2 L144.9,46.3 L145.9,46.4 L146.9,46.5 L147.9,46.6 L148.9,46.7 L149.9,46.8 L150.9,46.9 L151.9,47.0 L152.9,47.1 L153.9,47.2 L154.8,47.3 L155.8,47.4 L156.8,47.5 L157.8,47.6 L158.8,47.7 L159.8,47.8 L160.8,47.9 L161.8,48.0 L162.8,48.1 L163.8,48.2 L164.8,48.3 L165.8,48.4 L166.8,48.5 L167.8,48.6 L168.8,48.7 L169.8,48.8 L170.8,48.9 L171.8,49.0 L172.8,49.1 L173.8,49.2 L174.7,49.3 L175.7,49.4 L176.7,49.5 L177.7,49.6 L178.7,49.7 L179.7,49.7 L180.7,49.8 L181.7,49.9 L182.7,50.0 L183.7,50.1 L184.7,50.2 L185.7,50.3 L186.7,50.4 L187.7,50.5 L188.7,50.6 L189.7,50.7 L190.7,50.8 L191.7,50.9 L192.7,51.0 L193.7,51.1 L194.7,51.2 L195.7,51.3 L196.6,51.3 L197.6,51.4 L198.6,51.5 L199.6,51.6 L200.6,51.7 L201.6,51.8 L202.6,51.9 L203.6,52.0 L204.6,52.1 L205.6,52.2 L206.6,52.3 L207.6,52.5 L208.6,52.6 L209.6,52.7 L210.6,52.8 L211.6,52.9 L212.6,53.0 L213.6,53.1 L214.5,53.2 L215.5,53.3 L216.5,53.4 L217.5,53.6 L218.5,53.7 L219.5,53.8 L220.5,53.9 L221.5,54.0 L222.5,54.1 L223.5,54.3 L224.5,54.4 L225.5,54.5 L226.5,54.6 L227.5,54.8 L228.4,54.9 L229.4,55.0 L230.4,55.1 L231.4,55.3 L232.4,55.4 L233.4,55.5 L234.4,55.6 L235.4,55.8 L236.4,55.9 L237.4,56.0 L238.4,56.2 L239.4,56.3 L240.4,56.4 L241.3,56.5 L242.3,56.7 L243.3,56.8 L244.3,56.9 L245.3,57.0 L246.3,57.2 L247.3,57.3 L248.3,57.4 L249.3,57.5 L250.3,57.7 L251.3,57.8 L252.3,57.9 L253.2,58.1 L254.2,58.2 L255.2,58.3 L256.2,58.4 L257.2,58.6 L258.2,58.7 L259.2,58.8 L260.2,58.9 L261.2,59.0 L262.2,59.2 L263.2,59.3 L264.2,59.4 L265.2,59.5 L266.1,59.7 L267.1,59.8 L268.1,59.9 L269.1,60.0 L270.1,60.2 L271.1,60.3 L272.1,60.4 L273.1,60.5 L274.1,60.6 L275.1,60.8 L276.1,60.9 L277.1,61.0 L278.1,61.1 L279.0,61.3 L280.0,61.4 L281.0,61.5 L282.0,61.6 L283.0,61.7 L284.0,61.9 L285.0,62.0 L286.0,62.1 L287.0,62.2 L288.0,62.4 L289.0,62.5 L290.0,62.6 L291.0,62.7 L292.0,62.9 L292.9,63.0 L293.9,63.1 L294.9,63.2 L295.9,63.4 L296.9,63.5 L297.9,63.6 L298.9,63.7 L299.9,63.9 L300.9,64.0 L301.9,64.1 L302.9,64.3 L303.9,64.4 L304.8,64.5 L305.8,64.7 L306.8,64.8 L307.8,64.9 L308.8,65.1 L309.8,65.2 L310.8,65.4 L311.8,65.5 L312.8,65.6 L313.8,65.8 L314.7,65.9 L315.7,66.1 L316.7,66.2 L317.7,66.4 L318.7,66.5 L319.7,66.7 L320.7,66.8 L321.7,67.0 L322.7,67.1 L323.6,67.3 L324.6,67.4 L325.6,67.6 L326.6,67.8 L327.6,67.9 L328.6,68.1 L329.6,68.2 L330.5,68.4 L331.5,68.6 L332.5,68.7 L333.5,68.9 L334.5,69.1 L335.5,69.2 L336.5,69.4 L337.4,69.6 L338.4,69.7 L339.4,69.9 L340.4,70.1 L341.4,70.2 L342.4,70.4 L343.4,70.6 L344.3,70.8 L345.3,70.9 L346.3,71.1 L347.3,71.3 L348.3,71.5 L349.3,71.6 L350.3,71.8 L351.2,72.0 L352.2,72.2 L353.2,72.3 L354.2,72.5 L355.2,72.7 L356.2,72.9 L357.1,73.0 L358.1,73.2 L359.1,73.4 L360.1,73.6 L361.1,73.7 L362.1,73.9 L363.1,74.1 L364.0,74.3 L365.0,74.4 L366.0,74.6 L367.0,74.8 L368.0,75.0 L369.0,75.2 L369.9,75.3 L370.9,75.5 L371.9,75.7 L372.9,75.9 L373.9,76.1 L374.9,76.3 L375.8,76.5 L376.8,76.6 L377.8,76.8 L378.8,77.0 L379.8,77.2 L380.7,77.4 L381.7,77.6 L382.7,77.8 L383.7,78.0 L384.7,78.2 L385.6,78.4 L386.6,78.7 L387.6,78.9 L388.6,79.1 L389.5,79.3 L390.5,79.5 L391.5,79.7 L392.5,80.0 L393.4,80.2 L394.4,80.4 L395.4,80.7 L396.4,80.9 L397.3,81.1 L398.3,81.4 L399.3,81.6 L400.2,81.8 L401.2,82.1 L402.2,82.3 L403.2,82.5 L404.1,82.7 L405.1,83.0 L406.1,83.2 L407.0,83.4 L408.0,83.7 L409.0,83.9 L410.0,84.1 L410.9,84.3 L411.9,84.6 L412.9,84.8 L413.9,85.0 L414.8,85.2 L415.8,85.5 L416.8,85.7 L417.8,85.9 L418.7,86.2 L419.7,86.4 L420.7,86.6 L421.6,86.9 L422.6,87.1 L423.6,87.3 L424.6,87.6 L425.5,87.8 L426.5,88.1 L427.5,88.3 L428.4,88.6 L429.4,88.8 L430.4,89.1 L431.3,89.3 L432.3,89.6 L433.2,89.9 L434.2,90.1 L435.2,90.4 L436.1,90.7 L437.1,91.0 L438.1,91.2 L439.0,91.5 L440.0,91.8 L440.9,92.1 L441.9,92.4 L442.8,92.7 L443.8,93.0 L444.8,93.2 L445.7,93.5 L446.7,93.8 L447.6,94.1 L448.6,94.4 L449.5,94.7 L450.5,95.0 L451.4,95.3 L452.4,95.7 L453.3,96.0 L454.3,96.3 L455.2,96.6 L456.2,96.9 L457.1,97.2 L458.1,97.5 L459.0,97.9 L460.0,98.2 L460.9,98.5 L461.9,98.8 L462.8,99.2 L463.8,99.5 L464.7,99.8 L465.6,100.2 L466.6,100.5 L467.5,100.9 L468.5,101.2 L469.4,101.6 L470.3,101.9 L471.3,102.3 L472.2,102.6 L473.1,103.0 L474.1,103.4 L475.0,103.7 L475.9,104.1 L476.8,104.5 L477.8,104.8 L478.7,105.2 L479.6,105.6 L480.5,106.0 L481.5,106.4 L482.4,106.8 L483.3,107.2 L484.2,107.6 L485.1,108.0 L486.0,108.4 L487.0,108.8 L487.9,109.2 L488.8,109.6 L489.7,110.0 L490.6,110.4 L491.5,110.9 L492.4,111.3 L493.3,111.7 L494.2,112.2 L495.1,112.6 L496.0,113.0 L496.9,113.5 L497.8,113.9 L498.7,114.4 L499.6,114.8 L500.4,115.3 L501.3,115.8 L502.2,116.2 L503.1,116.7 L504.0,117.2 L504.9,117.7 L505.7,118.1 L506.6,118.6 L507.5,119.1 L508.3,119.6 L509.2,120.1 L510.1,120.6 L510.9,121.1 L511.8,121.6 L512.6,122.1 L513.5,122.7 L514.4,123.2 L515.2,123.7 L516.1,124.2 L516.9,124.8 L517.7,125.3 L518.6,125.8 L519.4,126.4 L520.3,126.9 L521.1,127.4 L521.9,128.0 L522.8,128.5 L523.6,129.1 L524.4,129.7 L525.3,130.2 L526.1,130.8 L526.9,131.3 L527.7,131.9 L528.6,132.5 L529.4,133.1 L530.2,133.6 L531.0,134.2 L531.8,134.8 L532.6,135.4 L533.4,136.0 L534.2,136.6 L535.0,137.2 L535.8,137.8 L536.6,138.4 L537.4,139.0 L538.2,139.6 L539.0,140.2 L539.8,140.8 L540.6,141.5 L541.3,142.1 L542.1,142.7 L542.9,143.4 L543.6,144.0 L544.4,144.6 L545.2,145.3 L545.9,145.9 L546.7,146.6 L547.4,147.3 L548.1,147.9 L548.9,148.6 L549.6,149.3 L550.3,150.0 L551.0,150.7 L551.8,151.4 L552.5,152.1 L553.2,152.8 L553.9,153.5 L554.6,154.2 L555.3,154.9 L555.9,155.7 L556.6,156.4 L557.3,157.1 L558.0,157.9 L558.6,158.6 L559.3,159.3 L559.9,160.1 L560.6,160.9 L561.3,161.6 L561.9,162.4 L562.5,163.1 L563.2,163.9 L563.8,164.7 L564.4,165.5 L565.1,166.2 L565.7,167.0 L566.3,167.8 L566.9,168.6 L567.6,169.4 L568.2,170.1 L568.8,170.9 L569.4,171.7 L570.0,172.5 L570.6,173.3 L571.2,174.1 L571.8,174.9 L572.4,175.7 L573.0,176.5 L573.6,177.3 L574.2,178.1 L574.8,178.9 L575.3,179.8 L575.9,180.6 L576.5,181.4 L577.0,182.2 L577.6,183.1 L578.1,183.9 L578.7,184.7 L579.2,185.6 L579.7,186.4 L580.3,187.2 L580.8,188.1 L581.3,188.9 L581.8,189.8 L582.3,190.6 L582.8,191.5 L583.4,192.4 L583.9,193.2 L584.4,194.1 L584.8,195.0 L585.3,195.8 L585.8,196.7 L586.3,197.6 L586.8,198.4 L587.3,199.3 L587.8,200.2 L588.3,201.1 L588.8,201.9 L589.3,202.8 L589.7,203.7 L590.2,204.5 L590.7,205.4 L591.2,206.3 L591.7,207.1 L592.2,208.0 L592.7,208.9 L593.2,209.7 L593.8,210.6 L594.3,211.5 L594.8,212.3 L595.3,213.2 L595.8,214.1 L596.2,214.9 L596.7,215.8 L597.2,216.7 L597.7,217.6 L598.1,218.5 L598.6,219.4 L599.0,220.3 L599.4,221.2 L599.8,222.1 L600.2,223.0 L600.6,223.9 L601.0,224.8 L601.5,225.7 L601.9,226.6 L602.4,227.5 L602.8,228.4 L603.3,229.3 L603.8,230.2 L604.2,231.0 L604.7,231.9 L605.2,232.8 L605.7,233.7 L606.2,234.6 L606.7,235.4 L607.1,236.3 L607.6,237.2 L608.1,238.1 L608.5,239.0 L608.9,239.9 L609.3,240.8 L609.7,241.8 L610.1,242.8 L610.5,243.6 L611.3,244.2 L612.2,244.6 L613.2,244.9 L614.2,244.8 L615.1,244.6 L616.0,244.1 L616.8,243.5 L617.5,242.8 L618.2,242.1 L618.8,241.4 L619.4,240.6 L620.0,239.8 L620.6,239.0 L621.2,238.2 L621.7,237.3 L622.2,236.4 L622.8,235.5 L623.3,234.6 L623.8,233.7 L624.3,232.8 L624.8,231.9 L625.3,231.1 L625.8,230.2 L626.3,229.3 L626.8,228.5 L627.2,227.6 L627.7,226.7 L628.2,225.8 L628.6,224.9 L629.1,224.0 L629.5,223.1 L629.9,222.2 L630.4,221.3 L630.8,220.4 L631.2,219.5 L631.6,218.6 L632.1,217.7 L632.5,216.8 L632.9,215.9 L633.4,215.0 L633.8,214.1 L634.2,213.2 L634.7,212.3 L635.1,211.4 L635.5,210.5 L636.0,209.6 L636.4,208.7 L636.8,207.8 L637.3,206.9 L637.7,206.0 L638.1,205.0 L638.5,204.1 L639.0,203.2 L639.4,202.3 L639.9,201.4 L640.3,200.5 L640.7,199.6 L641.2,198.8 L641.6,197.9 L642.1,197.0 L642.5,196.1 L643.0,195.2 L643.4,194.3 L643.9,193.4 L644.3,192.5 L644.8,191.6 L645.2,190.7 L645.7,189.8 L646.1,188.9 L646.6,188.0 L647.1,187.2 L647.5,186.3 L648.0,185.4 L648.5,184.5 L649.0,183.6 L649.5,182.8 L649.9,181.9 L650.4,181.0 L650.9,180.2 L651.4,179.3 L651.9,178.4 L652.4,177.6 L652.9,176.7 L653.5,175.8 L654.0,175.0 L654.5,174.1 L655.0,173.3 L655.6,172.5 L656.1,171.6 L656.6,170.8 L657.2,169.9 L657.7,169.1 L658.3,168.3 L658.8,167.5 L659.4,166.6 L660.0,165.8 L660.6,165.0 L661.1,164.2 L661.7,163.4 L662.3,162.6 L662.9,161.8 L663.5,161.0 L664.1,160.2 L664.7,159.4 L665.4,158.6 L666.0,157.8 L666.6,157.1 L667.2,156.3 L667.9,155.5 L668.5,154.8 L669.2,154.0 L669.8,153.2 L670.4,152.5 L671.1,151.7 L671.8,151.0 L672.4,150.2 L673.1,149.5 L673.8,148.7 L674.4,148.0 L675.1,147.2 L675.8,146.5 L676.5,145.8 L677.2,145.1 L677.8,144.3 L678.5,143.6 L679.2,142.9 L679.9,142.2 L680.6,141.5 L681.3,140.8 L682.1,140.1 L682.8,139.4 L683.5,138.7 L684.2,138.0 L684.9,137.3 L685.7,136.6 L686.4,135.9 L687.1,135.2 L687.9,134.6 L688.6,133.9 L689.3,133.2 L690.1,132.6 L690.8,131.9 L691.6,131.2 L692.3,130.6 L693.1,129.9 L693.8,129.3 L694.6,128.6 L695.4,128.0 L696.1,127.3 L696.9,126.7 L697.7,126.1 L698.4,125.4 L699.2,124.8 L700.0,124.2 L700.8,123.5 L701.6,122.9 L702.3,122.3 L703.1,121.7 L703.9,121.0 L704.7,120.4 L705.5,119.8 L706.3,119.2 L707.1,118.6 L707.9,118.0 L708.7,117.4 L709.5,116.8 L710.3,116.2 L711.1,115.6 L711.9,115.0 L712.7,114.4 L713.5,113.8 L714.3,113.3 L715.1,112.7 L715.9,112.1 L716.8,111.5 L717.6,111.0 L718.4,110.4 L719.2,109.8 L720.1,109.3 L720.9,108.7 L721.7,108.2 L722.5,107.6 L723.4,107.1 L724.2,106.5 L725.1,106.0 L725.9,105.4 L726.7,104.9 L727.6,104.4 L728.4,103.8 L729.3,103.3 L730.1,102.8 L731.0,102.3 L731.9,101.8 L732.7,101.2 L733.6,100.7 L734.4,100.2 L735.3,99.7 L736.2,99.2 L737.0,98.7 L737.9,98.2 L738.8,97.8 L739.6,97.3 L740.5,96.8 L741.4,96.3 L742.3,95.8 L743.1,95.3 L744.0,94.9 L744.9,94.4 L745.8,93.9 L746.7,93.5 L747.6,93.0 L748.5,92.5 L749.3,92.1 L750.2,91.6 L751.1,91.2 L752.0,90.7 L752.9,90.3 L753.8,89.8 L754.7,89.4 L755.6,88.9 L756.5,88.5 L757.4,88.0 L758.3,87.6 L759.2,87.2 L760.1,86.7 L761.0,86.3 L761.9,85.9 L762.8,85.4 L763.7,85.0 L764.6,84.6 L765.5,84.2 L766.4,83.8 L767.3,83.3 L768.2,82.9 L769.1,82.5 L770.0,82.1 L771.0,81.7 L771.9,81.3 L772.8,80.9 L773.7,80.5 L774.6,80.1 L775.5,79.7 L776.4,79.3 L777.4,78.9 L778.3,78.5 L779.2,78.1 L780.1,77.7 L781.0,77.3 L782.0,76.9 L782.9,76.5 L783.8,76.1 L784.7,75.8 L785.7,75.4 L786.6,75.0 L787.5,74.7 L788.5,74.3 L789.4,74.0 L790.3,73.6 L791.3,73.3 L792.2,72.9 L793.1,72.6 L794.1,72.3 L795.0,71.9 L796.0,71.6 L796.9,71.3 L797.9,71.0 L798.8,70.7 L799.8,70.4 L800.7,70.1 L801.7,69.8 L802.6,69.5 L803.6,69.2 L804.5,68.9 L805.5,68.6 L806.4,68.3 L807.4,68.0 L808.4,67.7 L809.3,67.4 L810.3,67.1 L811.2,66.8 L812.2,66.5 L813.2,66.3 L814.1,66.0 L815.1,65.7 L816.0,65.4 L817.0,65.1 L817.9,64.8 L818.9,64.5 L819.9,64.3 L820.8,64.0 L821.8,63.7 L822.7,63.4 L823.7,63.1 L824.7,62.8 L825.6,62.5 L826.6,62.2 L827.5,62.0 L828.5,61.7 L829.5,61.4 L830.4,61.1 L831.4,60.8 L832.4,60.6 L833.3,60.3 L834.3,60.0 L835.2,59.8 L836.2,59.5 L837.2,59.2 L838.1,59.0 L839.1,58.7 L840.1,58.5 L841.0,58.2 L842.0,58.0 L843.0,57.7 L843.9,57.5 L844.9,57.2 L845.9,57.0 L846.8,56.8 L847.8,56.6 L848.8,56.3 L849.8,56.1 L850.7,55.9 L851.7,55.7 L852.7,55.5 L853.7,55.3 L854.6,55.1 L855.6,54.9 L856.6,54.7 L857.6,54.5 L858.5,54.3 L859.5,54.1 L860.5,54.0 L861.5,53.8 L862.5,53.6 L863.4,53.4 L864.4,53.3 L865.4,53.1 L866.4,52.9 L867.4,52.8 L868.3,52.6 L869.3,52.5 L870.3,52.3 L871.3,52.2 L872.2,52.0 L873.2,51.9 L874.2,51.7 L875.1,51.6 L876.1,51.5 L877.1,51.3 L878.1,51.2 L879.0,51.0 L880.0,50.9 L880.0,50.9" fill="none" stroke="#669900" stroke-width="3.6" stroke-linecap="round" stroke-linejoin="round" stroke-dasharray="13.3 8.7"/>
<path d="M120.0,41.0 L121.0,41.1 L122.0,41.2 L123.0,41.3 L124.0,41.4 L125.0,41.5 L126.0,41.6 L127.0,41.8 L128.0,41.9 L128.9,42.0 L129.9,42.1 L130.9,42.2 L131.9,42.3 L132.9,42.4 L133.9,42.5 L134.9,42.7 L135.9,42.8 L136.9,42.9 L137.9,43.0 L138.9,43.1 L139.9,43.3 L140.9,43.4 L141.9,43.5 L142.8,43.6 L143.8,43.8 L144.8,43.9 L145.8,44.0 L146.8,44.1 L147.8,44.3 L148.8,44.4 L149.8,44.5 L150.8,44.7 L151.8,44.8 L152.8,44.9 L153.8,45.1 L154.7,45.2 L155.7,45.4 L156.7,45.5 L157.7,45.7 L158.7,45.8 L159.7,45.9 L160.7,46.1 L161.7,46.2 L162.7,46.4 L163.6,46.5 L164.6,46.7 L165.6,46.8 L166.6,47.0 L167.6,47.1 L168.6,47.3 L169.6,47.4 L170.6,47.6 L171.6,47.7 L172.5,47.9 L173.5,48.0 L174.5,48.2 L175.5,48.3 L176.5,48.5 L177.5,48.6 L178.5,48.8 L179.5,48.9 L180.5,49.1 L181.4,49.2 L182.4,49.4 L183.4,49.5 L184.4,49.7 L185.4,49.8 L186.4,50.0 L187.4,50.1 L188.4,50.3 L189.3,50.4 L190.3,50.6 L191.3,50.8 L192.3,50.9 L193.3,51.1 L194.3,51.2 L195.3,51.4 L196.3,51.6 L197.2,51.7 L198.2,51.9 L199.2,52.1 L200.2,52.2 L201.2,52.4 L202.2,52.6 L203.2,52.8 L204.1,52.9 L205.1,53.1 L206.1,53.3 L207.1,53.5 L208.1,53.6 L209.1,53.8 L210.0,54.0 L211.0,54.2 L212.0,54.4 L213.0,54.6 L214.0,54.7 L215.0,54.9 L215.9,55.1 L216.9,55.3 L217.9,55.5 L218.9,55.7 L219.9,55.9 L220.8,56.1 L221.8,56.3 L222.8,56.5 L223.8,56.7 L224.8,56.9 L225.7,57.1 L226.7,57.3 L227.7,57.5 L228.7,57.7 L229.7,57.9 L230.6,58.1 L231.6,58.3 L232.6,58.5 L233.6,58.7 L234.6,58.9 L235.5,59.1 L236.5,59.3 L237.5,59.6 L238.5,59.8 L239.4,60.0 L240.4,60.2 L241.4,60.4 L242.4,60.6 L243.3,60.9 L244.3,61.1 L245.3,61.3 L246.3,61.5 L247.2,61.7 L248.2,62.0 L249.2,62.2 L250.2,62.4 L251.1,62.6 L252.1,62.9 L253.1,63.1 L254.1,63.3 L255.0,63.6 L256.0,63.8 L257.0,64.0 L258.0,64.2 L258.9,64.5 L259.9,64.7 L260.9,64.9 L261.8,65.2 L262.8,65.4 L263.8,65.7 L264.8,65.9 L265.7,66.1 L266.7,66.4 L267.7,66.6 L268.6,66.8 L269.6,67.1 L270.6,67.3 L271.6,67.6 L272.5,67.8 L273.5,68.1 L274.5,68.3 L275.4,68.6 L276.4,68.8 L277.4,69.1 L278.3,69.3 L279.3,69.6 L280.3,69.9 L281.2,70.1 L282.2,70.4 L283.1,70.7 L284.1,70.9 L285.1,71.2 L286.0,71.5 L287.0,71.8 L287.9,72.0 L288.9,72.3 L289.9,72.6 L290.8,72.9 L291.8,73.2 L292.7,73.5 L293.7,73.8 L294.6,74.1 L295.6,74.4 L296.6,74.6 L297.5,74.9 L298.5,75.2 L299.4,75.5 L300.4,75.8 L301.3,76.1 L302.3,76.4 L303.2,76.7 L304.2,77.0 L305.1,77.4 L306.1,77.7 L307.0,78.0 L308.0,78.3 L309.0,78.6 L309.9,78.9 L310.9,79.2 L311.8,79.5 L312.7,79.8 L313.7,80.2 L314.6,80.5 L315.6,80.8 L316.5,81.1 L317.5,81.5 L318.4,81.8 L319.4,82.1 L320.3,82.4 L321.3,82.8 L322.2,83.1 L323.1,83.5 L324.1,83.8 L325.0,84.1 L325.9,84.5 L326.9,84.8 L327.8,85.2 L328.8,85.6 L329.7,85.9 L330.6,86.3 L331.5,86.6 L332.5,87.0 L333.4,87.4 L334.3,87.8 L335.3,88.1 L336.2,88.5 L337.1,88.9 L338.0,89.3 L338.9,89.7 L339.9,90.1 L340.8,90.5 L341.7,90.8 L342.6,91.2 L343.5,91.6 L344.5,92.0 L345.4,92.4 L346.3,92.9 L347.2,93.3 L348.1,93.7 L349.0,94.1 L349.9,94.5 L350.8,94.9 L351.7,95.3 L352.7,95.7 L353.6,96.2 L354.5,96.6 L355.4,97.0 L356.3,97.4 L357.2,97.9 L358.1,98.3 L359.0,98.7 L359.9,99.2 L360.8,99.6 L361.7,100.0 L362.6,100.4 L363.5,100.9 L364.4,101.3 L365.3,101.8 L366.2,102.2 L367.1,102.6 L368.0,103.1 L368.9,103.5 L369.8,103.9 L370.7,104.4 L371.6,104.8 L372.5,105.3 L373.4,105.7 L374.3,106.1 L375.2,106.6 L376.1,107.0 L377.0,107.5 L377.9,107.9 L378.8,108.4 L379.7,108.8 L380.6,109.3 L381.5,109.7 L382.3,110.2 L383.2,110.6 L384.1,111.1 L385.0,111.5 L385.9,112.0 L386.8,112.5 L387.7,112.9 L388.5,113.4 L389.4,113.9 L390.3,114.4 L391.2,114.8 L392.1,115.3 L392.9,115.8 L393.8,116.3 L394.7,116.8 L395.5,117.3 L396.4,117.8 L397.3,118.3 L398.1,118.8 L399.0,119.3 L399.8,119.8 L400.7,120.4 L401.5,120.9 L402.4,121.4 L403.2,121.9 L404.1,122.5 L404.9,123.0 L405.8,123.6 L406.6,124.1 L407.4,124.7 L408.2,125.2 L409.1,125.8 L409.9,126.3 L410.7,126.9 L411.5,127.5 L412.4,128.0 L413.2,128.6 L414.0,129.2 L414.8,129.8 L415.6,130.4 L416.4,131.0 L417.2,131.6 L418.0,132.2 L418.8,132.8 L419.6,133.4 L420.4,134.0 L421.1,134.6 L421.9,135.3 L422.7,135.9 L423.5,136.5 L424.3,137.1 L425.0,137.8 L425.8,138.4 L426.6,139.1 L427.3,139.7 L428.1,140.3 L428.9,141.0 L429.6,141.6 L430.4,142.3 L431.1,142.9 L431.9,143.6 L432.6,144.3 L433.4,144.9 L434.1,145.6 L434.9,146.3 L435.6,146.9 L436.3,147.6 L437.1,148.3 L437.8,149.0 L438.5,149.7 L439.2,150.4 L439.9,151.1 L440.6,151.8 L441.3,152.5 L442.0,153.2 L442.7,153.9 L443.4,154.6 L444.1,155.4 L444.8,156.1 L445.5,156.8 L446.1,157.6 L446.8,158.3 L447.5,159.0 L448.2,159.8 L448.8,160.5 L449.5,161.3 L450.1,162.0 L450.8,162.8 L451.4,163.6 L452.1,164.3 L452.7,165.1 L453.3,165.9 L454.0,166.6 L454.6,167.4 L455.2,168.2 L455.9,169.0 L456.5,169.7 L457.1,170.5 L457.7,171.3 L458.4,172.1 L459.0,172.9 L459.6,173.7 L460.2,174.5 L460.8,175.3 L461.4,176.1 L462.0,176.9 L462.6,177.7 L463.2,178.5 L463.7,179.3 L464.3,180.1 L464.9,180.9 L465.5,181.7 L466.0,182.6 L466.6,183.4 L467.1,184.2 L467.7,185.0 L468.2,185.9 L468.8,186.7 L469.3,187.6 L469.8,188.4 L470.3,189.3 L470.9,190.1 L471.4,191.0 L471.9,191.8 L472.4,192.7 L472.9,193.6 L473.4,194.4 L473.9,195.3 L474.3,196.2 L474.8,197.1 L475.3,197.9 L475.8,198.8 L476.2,199.7 L476.7,200.6 L477.1,201.5 L477.6,202.4 L478.1,203.3 L478.5,204.1 L479.0,205.0 L479.4,205.9 L479.9,206.8 L480.3,207.7 L480.7,208.6 L481.2,209.5 L481.6,210.4 L482.0,211.3 L482.4,212.2 L482.9,213.1 L483.3,214.1 L483.7,215.0 L484.1,215.9 L484.5,216.8 L484.9,217.7 L485.3,218.6 L485.7,219.5 L486.1,220.5 L486.5,221.4 L486.8,222.3 L487.2,223.2 L487.6,224.2 L488.0,225.1 L488.3,226.0 L488.7,227.0 L489.0,227.9 L489.4,228.8 L489.8,229.8 L490.1,230.7 L490.5,231.6 L490.8,232.6 L491.1,233.5 L491.5,234.5 L491.8,235.4 L492.2,236.3 L492.5,237.3 L492.8,238.2 L493.2,239.2 L493.5,240.1 L493.8,241.1 L494.1,242.0 L494.5,243.0 L494.8,243.9 L495.1,244.9 L495.4,245.8 L495.7,246.8 L496.0,247.7 L496.3,248.7 L496.6,249.6 L496.9,250.6 L497.2,251.5 L497.5,252.5 L497.8,253.4 L498.1,254.4 L498.4,255.3 L498.7,256.3 L498.9,257.3 L499.2,258.2 L499.4,259.2 L499.7,260.2 L499.9,261.1 L500.2,262.1 L500.4,263.1 L500.7,264.0 L500.9,265.0 L501.2,266.0 L501.5,267.0 L501.7,267.9 L502.0,268.9 L502.3,269.8 L502.6,270.8 L502.9,271.8 L503.2,272.7 L503.5,273.7 L503.8,274.6 L504.1,275.5 L504.4,276.5 L504.7,277.4 L505.1,278.4 L505.4,279.3 L505.7,280.3 L506.0,281.2 L506.3,282.2 L506.6,283.1 L506.9,284.1 L507.2,285.1 L507.5,286.0 L507.8,287.0 L508.1,287.9 L508.4,288.9 L508.8,289.8 L509.1,290.8 L509.5,291.7 L509.9,292.6 L510.3,293.5 L510.7,294.4 L511.3,295.3 L511.9,296.1 L512.7,296.6 L513.7,296.7 L514.6,296.2 L515.2,295.4 L515.8,294.6 L516.2,293.7 L516.7,292.8 L517.1,291.9 L517.4,290.9 L517.8,290.0 L518.1,289.1 L518.4,288.1 L518.8,287.2 L519.1,286.2 L519.3,285.2 L519.6,284.3 L519.9,283.3 L520.2,282.4 L520.5,281.4 L520.8,280.5 L521.1,279.5 L521.4,278.5 L521.6,277.6 L521.9,276.6 L522.2,275.7 L522.5,274.7 L522.8,273.7 L523.0,272.8 L523.3,271.8 L523.6,270.9 L523.9,269.9 L524.2,269.0 L524.5,268.0 L524.8,267.0 L525.1,266.1 L525.3,265.1 L525.6,264.2 L525.9,263.2 L526.2,262.2 L526.5,261.3 L526.8,260.3 L527.1,259.4 L527.4,258.4 L527.6,257.5 L527.9,256.5 L528.2,255.5 L528.5,254.6 L528.8,253.6 L529.1,252.7 L529.5,251.7 L529.8,250.8 L530.1,249.8 L530.4,248.9 L530.7,247.9 L531.0,247.0 L531.4,246.0 L531.7,245.1 L532.0,244.2 L532.3,243.2 L532.6,242.3 L533.0,241.3 L533.3,240.4 L533.6,239.4 L534.0,238.5 L534.3,237.5 L534.7,236.6 L535.0,235.7 L535.4,234.7 L535.7,233.8 L536.1,232.9 L536.5,231.9 L536.8,231.0 L537.2,230.1 L537.6,229.2 L538.0,228.2 L538.4,227.3 L538.8,226.4 L539.2,225.5 L539.6,224.6 L540.0,223.7 L540.4,222.8 L540.9,221.9 L541.3,221.0 L541.7,220.1 L542.1,219.1 L542.6,218.2 L543.0,217.3 L543.4,216.4 L543.9,215.5 L544.3,214.6 L544.8,213.8 L545.2,212.9 L545.7,212.0 L546.1,211.1 L546.6,210.2 L547.0,209.3 L547.5,208.4 L548.0,207.5 L548.4,206.6 L548.9,205.8 L549.4,204.9 L549.8,204.0 L550.3,203.1 L550.8,202.3 L551.3,201.4 L551.8,200.5 L552.3,199.7 L552.8,198.8 L553.3,197.9 L553.8,197.1 L554.4,196.2 L554.9,195.4 L555.4,194.6 L556.0,193.7 L556.5,192.9 L557.0,192.0 L557.6,191.2 L558.2,190.4 L558.7,189.6 L559.3,188.7 L559.9,187.9 L560.4,187.1 L561.0,186.3 L561.6,185.5 L562.2,184.7 L562.8,183.9 L563.4,183.1 L564.0,182.3 L564.6,181.5 L565.2,180.7 L565.8,179.9 L566.4,179.1 L567.0,178.3 L567.6,177.5 L568.2,176.7 L568.9,176.0 L569.5,175.2 L570.1,174.4 L570.8,173.7 L571.4,172.9 L572.1,172.2 L572.7,171.4 L573.4,170.7 L574.0,169.9 L574.7,169.2 L575.4,168.5 L576.1,167.7 L576.8,167.0 L577.5,166.3 L578.2,165.6 L578.9,164.9 L579.6,164.2 L580.3,163.5 L581.0,162.8 L581.7,162.1 L582.5,161.4 L583.2,160.7 L583.9,160.1 L584.7,159.4 L585.4,158.7 L586.2,158.1 L586.9,157.4 L587.7,156.7 L588.4,156.1 L589.2,155.4 L589.9,154.8 L590.7,154.1 L591.5,153.5 L592.2,152.9 L593.0,152.2 L593.8,151.6 L594.5,151.0 L595.3,150.3 L596.1,149.7 L596.9,149.1 L597.7,148.5 L598.5,147.9 L599.3,147.3 L600.1,146.7 L600.9,146.1 L601.7,145.5 L602.5,144.9 L603.3,144.3 L604.1,143.7 L604.9,143.2 L605.7,142.6 L606.5,142.0 L607.4,141.4 L608.2,140.8 L609.0,140.3 L609.8,139.7 L610.6,139.1 L611.5,138.6 L612.3,138.0 L613.1,137.5 L614.0,136.9 L614.8,136.3 L615.6,135.8 L616.4,135.2 L617.3,134.7 L618.1,134.1 L619.0,133.6 L619.8,133.0 L620.6,132.5 L621.5,132.0 L622.3,131.4 L623.2,130.9 L624.0,130.4 L624.9,129.8 L625.7,129.3 L626.6,128.8 L627.4,128.3 L628.3,127.8 L629.1,127.3 L630.0,126.8 L630.9,126.3 L631.7,125.8 L632.6,125.3 L633.5,124.8 L634.3,124.3 L635.2,123.8 L636.1,123.3 L637.0,122.9 L637.9,122.4 L638.7,121.9 L639.6,121.4 L640.5,121.0 L641.4,120.5 L642.3,120.1 L643.2,119.6 L644.1,119.2 L645.0,118.7 L645.9,118.3 L646.8,117.9 L647.7,117.4 L648.6,117.0 L649.5,116.6 L650.4,116.2 L651.3,115.7 L652.2,115.3 L653.1,114.9 L654.0,114.5 L654.9,114.1 L655.9,113.7 L656.8,113.3 L657.7,112.9 L658.6,112.5 L659.5,112.1 L660.5,111.8 L661.4,111.4 L662.3,111.0 L663.2,110.6 L664.2,110.3 L665.1,109.9 L666.0,109.5 L667.0,109.2 L667.9,108.8 L668.8,108.5 L669.8,108.1 L670.7,107.8 L671.6,107.4 L672.6,107.1 L673.5,106.7 L674.5,106.4 L675.4,106.0 L676.3,105.7 L677.3,105.4 L678.2,105.0 L679.2,104.7 L680.1,104.4 L681.0,104.0 L682.0,103.7 L682.9,103.4 L683.9,103.0 L684.8,102.7 L685.8,102.4 L686.7,102.1 L687.7,101.8 L688.6,101.4 L689.6,101.1 L690.5,100.8 L691.5,100.5 L692.4,100.2 L693.4,99.9 L694.3,99.6 L695.3,99.3 L696.2,99.0 L697.2,98.7 L698.1,98.4 L699.1,98.1 L700.0,97.8 L701.0,97.5 L702.0,97.2 L702.9,96.9 L703.9,96.6 L704.8,96.4 L705.8,96.1 L706.8,95.8 L707.7,95.5 L708.7,95.3 L709.6,95.0 L710.6,94.7 L711.6,94.4 L712.5,94.2 L713.5,93.9 L714.4,93.6 L715.4,93.4 L716.4,93.1 L717.3,92.8 L718.3,92.6 L719.3,92.3 L720.2,92.0 L721.2,91.8 L722.2,91.5 L723.1,91.2 L724.1,91.0 L725.1,90.7 L726.0,90.4 L727.0,90.2 L727.9,89.9 L728.9,89.6 L729.9,89.4 L730.8,89.1 L731.8,88.8 L732.8,88.6 L733.7,88.3 L734.7,88.1 L735.7,87.8 L736.6,87.5 L737.6,87.3 L738.6,87.0 L739.5,86.8 L740.5,86.5 L741.5,86.3 L742.4,86.0 L743.4,85.8 L744.4,85.6 L745.3,85.3 L746.3,85.1 L747.3,84.8 L748.3,84.6 L749.2,84.4 L750.2,84.2 L751.2,83.9 L752.2,83.7 L753.1,83.5 L754.1,83.2 L755.1,83.0 L756.0,82.8 L757.0,82.6 L758.0,82.3 L759.0,82.1 L759.9,81.9 L760.9,81.6 L761.9,81.4 L762.9,81.2 L763.8,80.9 L764.8,80.7 L765.8,80.5 L766.7,80.2 L767.7,80.0 L768.7,79.7 L769.7,79.5 L770.6,79.3 L771.6,79.0 L772.6,78.8 L773.5,78.5 L774.5,78.3 L775.5,78.0 L776.4,77.8 L777.4,77.5 L778.4,77.3 L779.3,77.0 L780.3,76.8 L781.3,76.5 L782.2,76.3 L783.2,76.0 L784.2,75.8 L785.1,75.5 L786.1,75.3 L787.1,75.0 L788.1,74.8 L789.0,74.6 L790.0,74.4 L791.0,74.1 L792.0,73.9 L792.9,73.7 L793.9,73.5 L794.9,73.2 L795.9,73.0 L796.8,72.8 L797.8,72.6 L798.8,72.4 L799.8,72.2 L800.7,72.0 L801.7,71.8 L802.7,71.6 L803.7,71.5 L804.7,71.3 L805.7,71.1 L806.6,70.9 L807.6,70.7 L808.6,70.5 L809.6,70.4 L810.6,70.2 L811.6,70.0 L812.5,69.8 L813.5,69.7 L814.5,69.5 L815.5,69.3 L816.5,69.2 L817.5,69.0 L818.5,68.9 L819.4,68.7 L820.4,68.5 L821.4,68.4 L822.4,68.2 L823.4,68.1 L824.4,67.9 L825.4,67.8 L826.4,67.6 L827.4,67.5 L828.3,67.3 L829.3,67.2 L830.3,67.0 L831.3,66.9 L832.3,66.7 L833.3,66.6 L834.3,66.4 L835.3,66.3 L836.3,66.2 L837.2,66.0 L838.2,65.9 L839.2,65.7 L840.2,65.6 L841.2,65.4 L842.2,65.3 L843.2,65.2 L844.2,65.0 L845.2,64.9 L846.2,64.7 L847.1,64.6 L848.1,64.5 L849.1,64.3 L850.1,64.2 L851.1,64.0 L852.1,63.9 L853.1,63.8 L854.1,63.6 L855.1,63.5 L856.1,63.3 L857.0,63.2 L858.0,63.1 L859.0,62.9 L860.0,62.8 L861.0,62.6 L862.0,62.5 L863.0,62.4 L863.9,62.2 L864.9,62.1 L865.9,62.0 L866.9,61.8 L867.9,61.7 L868.8,61.5 L869.8,61.4 L870.8,61.3 L871.8,61.1 L872.7,61.0 L873.7,60.9 L874.7,60.7 L875.6,60.6 L876.6,60.5 L877.6,60.3 L878.5,60.2 L879.5,60.1 L880.0,60.0" fill="none" stroke="#ff9900" stroke-width="3.6" stroke-linecap="round" stroke-linejoin="round" stroke-dasharray="13.3 8.7"/>
<g font-size="29.8" text-anchor="end">
<text x="98.5" y="22.4">0</text>
<text x="98.5" y="104.3">-10</text>
<text x="98.5" y="186.0">-20</text>
<text x="98.5" y="267.6">-30</text>
<text x="98.5" y="349.3">-40</text>
<text x="98.5" y="430.9">-50</text>
<text x="98.5" y="512.6">-60</text>
</g>
<g font-size="29.8" text-anchor="middle">
<text x="119.7" y="591.3">26</text>
<text x="271.7" y="591.3">27</text>
<text x="423.7" y="591.3">28</text>
<text x="575.7" y="591.3">29</text>
<text x="727.7" y="591.3">30</text>
<text x="879.7" y="591.3">31</text>
</g>
<g font-size="29.45">
<path d="M135,448.2H201.4" stroke="#ff3399" stroke-width="3.6" stroke-linecap="round" fill="none" stroke-dasharray="13.3 8.7"/>
<text x="217.6" y="457.9">Step 1</text>
<path d="M135,481.3H201.4" stroke="#cc6600" stroke-width="3.6" stroke-linecap="round" fill="none" stroke-dasharray="13.3 8.7"/>
<text x="217.6" y="491.0">Step 2</text>
<path d="M135,514.0H201.4" stroke="#6666cc" stroke-width="3.6" stroke-linecap="round" fill="none" stroke-dasharray="13.3 8.7"/>
<text x="217.6" y="523.7">Step 3</text>
<path d="M317.8,448.2H384.20000000000005" stroke="#669900" stroke-width="3.6" stroke-linecap="round" fill="none" stroke-dasharray="13.3 8.7"/>
<text x="400.4" y="457.9">Step 4</text>
<path d="M317.8,481.3H384.20000000000005" stroke="#ff9900" stroke-width="3.6" stroke-linecap="round" fill="none" stroke-dasharray="13.3 8.7"/>
<text x="400.4" y="491.0">Step 5</text>
<path d="M317.8,514.0H384.20000000000005" stroke="#009966" stroke-width="3.8000000000000003" stroke-linecap="round" fill="none"/>
<text x="400.4" y="523.7">S11 (Single Element)</text>
</g>
<text font-size="38" text-anchor="middle" x="501.3" y="651.2">Frequency (GHz)</text>
<text font-size="38" text-anchor="middle" transform="translate(29.4,277.4) rotate(-90)">Reflection Coefficient (dB)</text>
<text font-family='"Liberation Serif", "Times New Roman", Times, serif' font-size="52" text-anchor="middle" x="490.8" y="717.2">(a)</text>
</g>
<g id="chart-b">
<path d="M1180,12.2V543M1332,12.2V543M1484,12.2V543M1636,12.2V543M1028,467.0H1788M1028,391.2H1788M1028,315.4H1788M1028,239.6H1788M1028,163.8H1788M1028,88.0H1788" stroke="#d8d8d8" stroke-width="1.25" fill="none"/>
<path d="M1028,543v8.2M1180,543v8.2M1332,543v8.2M1484,543v8.2M1636,543v8.2M1788,543v8.2M1028,445.2h-8.2M1028,336.9h-8.2M1028,228.7h-8.2M1028,120.4h-8.2M1028,12.2h-8.2M1788,542.8h8.2M1788,467.0h8.2M1788,391.2h8.2M1788,315.4h8.2M1788,239.6h8.2M1788,163.8h8.2M1788,88.0h8.2M1788,12.2h8.2" stroke="#1c1c1c" stroke-width="1.5" fill="none"/>
<rect x="1028" y="12.2" width="760" height="530.8" fill="none" stroke="#000" stroke-width="4.2"/>
<path d="M1028.0,180.9 L1088.8,144.3 L1149.6,114.0 L1210.4,89.0 L1271.2,71.0 L1332.0,61.5 L1392.8,60.5 L1453.6,66.8 L1514.4,81.7 L1575.2,104.7 L1636.0,136.3 L1696.8,177.4 L1757.6,228.9 L1788.0,259.5" fill="none" stroke="#ff0000" stroke-width="3.8000000000000003" stroke-linecap="round" stroke-linejoin="round"/>
<path d="M1028.0,256.3 L1088.8,202.7 L1149.6,190.0 L1210.4,197.8 L1271.2,204.2 L1332.0,200.5 L1392.8,190.0 L1453.6,187.5 L1514.4,208.3 L1575.2,259.6 L1636.0,331.1 L1696.8,391.7 L1757.6,412.6 L1788.0,402.1" fill="none" stroke="#0000ff" stroke-width="3.8000000000000003" stroke-linecap="round" stroke-linejoin="round"/>
<g font-size="29.8" text-anchor="end">
<text x="1006" y="455.7">0</text>
<text x="1006" y="347.4">2</text>
<text x="1006" y="239.2">4</text>
<text x="1006" y="130.9">6</text>
<text x="1006" y="22.3">8</text>
</g>
<g font-size="29.8" text-anchor="start">
<text x="1810" y="553.3">93</text>
<text x="1810" y="477.5">94</text>
<text x="1810" y="401.7">95</text>
<text x="1810" y="325.9">96</text>
<text x="1810" y="250.1">97</text>
<text x="1810" y="174.3">98</text>
<text x="1810" y="98.5">99</text>
<text x="1810" y="22.0">100</text>
</g>
<g font-size="29.8" text-anchor="middle">
<text x="1027.7" y="591.3">26</text>
<text x="1179.7" y="591.3">27</text>
<text x="1331.7" y="591.3">28</text>
<text x="1483.7" y="591.3">29</text>
<text x="1635.7" y="591.3">30</text>
<text x="1787.7" y="591.3">31</text>
</g>
<g font-size="29.45">
<path d="M1044.8,473.1H1111" stroke="#ff0000" stroke-width="3.8000000000000003" stroke-linecap="round" fill="none"/>
<text x="1127.6" y="482.9">Gain (dB) [Single Element]</text>
<path d="M1044.8,506.0H1111" stroke="#0000ff" stroke-width="3.8000000000000003" stroke-linecap="round" fill="none"/>
<text x="1127.6" y="515.8">Efficiency (%) [Single Element]</text>
</g>
<text font-size="38" text-anchor="middle" x="1408.9" y="651.2">Frequency (GHz)</text>
<text font-size="38" text-anchor="middle" transform="translate(964.2,277.2) rotate(-90)">Gain (dB)</text>
<text font-size="38" text-anchor="middle" transform="translate(1912.7,276.6) rotate(-90)">Efficiency (%)</text>
<text font-family='"Liberation Serif", "Times New Roman", Times, serif' font-size="52" text-anchor="middle" x="1426.5" y="717.5">(b)</text>
</g>
</svg></body></html>
